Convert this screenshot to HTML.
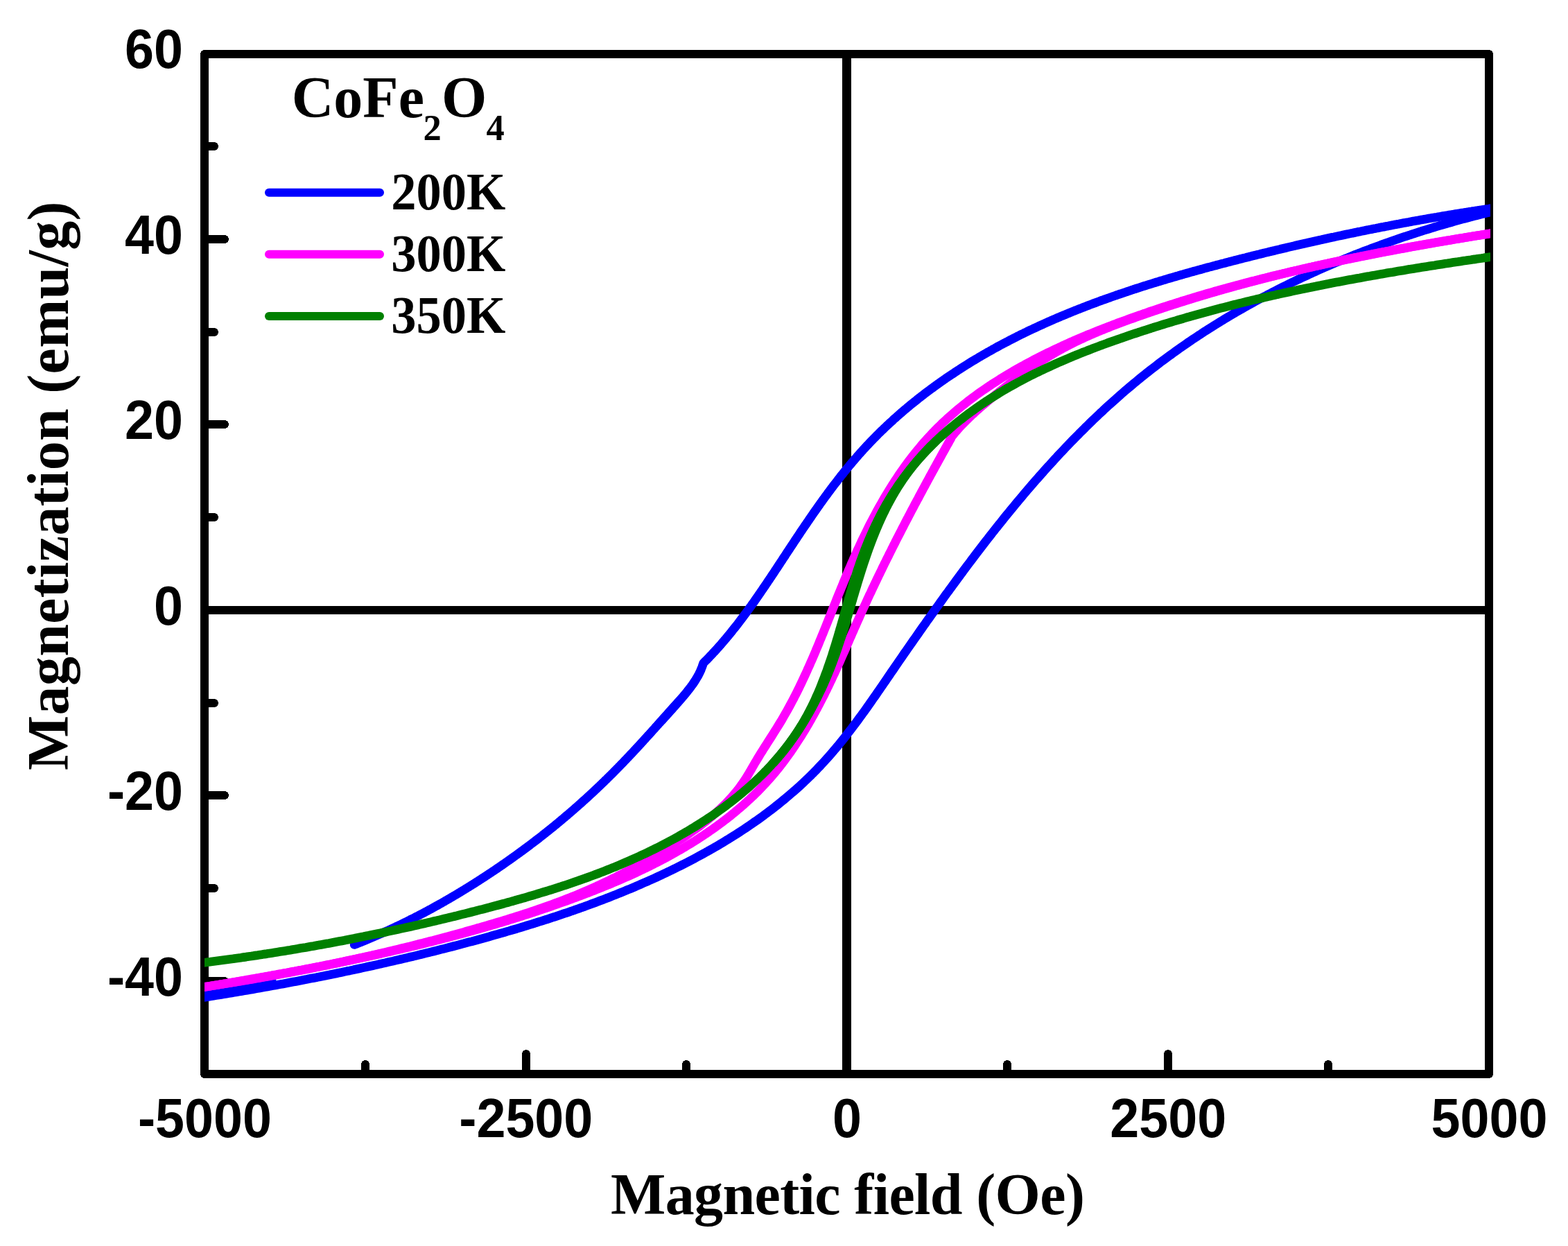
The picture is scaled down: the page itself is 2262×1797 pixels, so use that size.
<!DOCTYPE html>
<html><head><meta charset="utf-8"><title>CoFe2O4 hysteresis</title>
<style>html,body{margin:0;padding:0;background:#fff}svg{display:block}.s{font-family:"Liberation Serif",serif;font-weight:bold;font-variant-ligatures:none}.a{font-family:"Liberation Sans",sans-serif;font-weight:bold}</style></head><body>
<svg width="2262" height="1797" viewBox="0 0 2262 1797">
<rect width="2262" height="1797" fill="#fff"/>
<defs><clipPath id="c"><rect x="295" y="72" width="1855" height="1483"/></clipPath></defs>
<g stroke="#000" stroke-width="12" fill="none" shape-rendering="crispEdges">
<path d="M295,78 H2148 V1549 H295 Z" stroke-linejoin="round"/>
<path d="M295,880 H2148"/>
<path d="M1221.5,78 V1549" stroke-width="13"/>
</g>
<g stroke="#000" stroke-width="12" fill="none" stroke-linecap="round" shape-rendering="crispEdges">
<path d="M295,1415 h29"/>
<path d="M295,1281 h14"/>
<path d="M295,1147 h29"/>
<path d="M295,1014 h14"/>
<path d="M295,746 h14"/>
<path d="M295,612 h29"/>
<path d="M295,479 h14"/>
<path d="M295,345 h29"/>
<path d="M295,211 h14"/>
<path d="M527,1549 v-14"/>
<path d="M759,1549 v-29"/>
<path d="M990,1549 v-14"/>
<path d="M1453,1549 v-14"/>
<path d="M1685,1549 v-29"/>
<path d="M1916,1549 v-14"/>
</g>
<g fill="none" stroke-width="12.7" stroke-linejoin="round" stroke-linecap="round" clip-path="url(#c)">
<path stroke="#0000ff" d="M2152.0,300.5 L2149.7,300.8 L2147.5,301.2 L2145.2,301.5 L2142.9,301.9 L2140.6,302.2 L2138.4,302.5 L2136.1,302.9 L2133.8,303.2 L2131.5,303.6 L2129.2,303.9 L2127.0,304.3 L2124.7,304.6 L2122.4,305.0 L2120.2,305.3 L2117.9,305.7 L2115.6,306.1 L2113.3,306.4 L2111.1,306.8 L2108.8,307.1 L2106.5,307.5 L2104.3,307.9 L2102.0,308.2 L2099.7,308.6 L2097.5,309.0 L2095.2,309.4 L2092.9,309.7 L2090.7,310.1 L2088.4,310.5 L2086.1,310.9 L2083.9,311.2 L2081.6,311.6 L2079.3,312.0 L2077.1,312.4 L2074.8,312.8 L2072.5,313.2 L2070.3,313.5 L2068.0,313.9 L2065.8,314.3 L2063.5,314.7 L2061.2,315.1 L2059.0,315.5 L2056.7,315.9 L2054.5,316.3 L2052.2,316.7 L2049.9,317.1 L2047.7,317.5 L2045.4,317.9 L2043.2,318.3 L2040.9,318.7 L2038.7,319.1 L2036.4,319.5 L2034.2,319.9 L2031.9,320.4 L2029.6,320.8 L2027.4,321.2 L2025.1,321.6 L2022.9,322.0 L2020.6,322.4 L2018.4,322.9 L2016.1,323.3 L2013.9,323.7 L2011.6,324.1 L2009.4,324.6 L2007.1,325.0 L2004.9,325.4 L2002.6,325.9 L2000.4,326.3 L1998.1,326.7 L1995.9,327.2 L1993.6,327.6 L1991.4,328.0 L1989.1,328.5 L1986.9,328.9 L1984.7,329.4 L1982.4,329.8 L1980.2,330.2 L1977.9,330.7 L1975.7,331.1 L1973.4,331.6 L1971.2,332.0 L1968.9,332.5 L1966.7,332.9 L1964.5,333.4 L1962.2,333.9 L1960.0,334.3 L1957.7,334.8 L1955.5,335.2 L1953.3,335.7 L1951.0,336.2 L1948.8,336.6 L1946.5,337.1 L1944.3,337.6 L1942.1,338.0 L1939.8,338.5 L1937.6,339.0 L1935.3,339.5 L1933.1,339.9 L1930.9,340.4 L1928.6,340.9 L1926.4,341.4 L1924.2,341.9 L1921.9,342.3 L1919.7,342.8 L1917.4,343.3 L1915.2,343.8 L1913.0,344.3 L1910.7,344.8 L1908.5,345.3 L1906.3,345.8 L1904.0,346.2 L1901.8,346.7 L1899.6,347.2 L1897.3,347.7 L1895.1,348.2 L1892.9,348.7 L1890.6,349.2 L1888.4,349.7 L1886.2,350.2 L1883.9,350.8 L1881.7,351.3 L1879.5,351.8 L1877.2,352.3 L1875.0,352.8 L1872.8,353.3 L1870.6,353.8 L1868.3,354.3 L1866.1,354.9 L1863.9,355.4 L1861.6,355.9 L1859.4,356.4 L1857.2,356.9 L1854.9,357.5 L1852.7,358.0 L1850.5,358.5 L1848.3,359.0 L1846.0,359.6 L1843.8,360.1 L1841.6,360.6 L1839.3,361.2 L1837.1,361.7 L1834.9,362.2 L1832.7,362.8 L1830.4,363.3 L1828.2,363.9 L1826.0,364.4 L1823.7,364.9 L1821.5,365.5 L1819.3,366.0 L1817.1,366.6 L1814.8,367.1 L1812.6,367.7 L1810.4,368.2 L1808.2,368.8 L1805.9,369.3 L1803.7,369.9 L1801.5,370.5 L1799.3,371.0 L1797.0,371.6 L1794.8,372.1 L1792.6,372.7 L1790.4,373.3 L1788.1,373.8 L1785.9,374.4 L1783.7,375.0 L1781.5,375.5 L1779.2,376.1 L1777.0,376.7 L1774.8,377.3 L1772.6,377.8 L1770.3,378.4 L1768.1,379.0 L1765.9,379.6 L1763.7,380.1 L1761.5,380.7 L1759.2,381.3 L1757.0,381.9 L1754.8,382.5 L1752.6,383.1 L1750.3,383.7 L1748.1,384.3 L1745.9,384.9 L1743.7,385.4 L1741.5,386.0 L1739.2,386.6 L1737.0,387.2 L1734.8,387.9 L1732.6,388.5 L1730.4,389.1 L1728.1,389.7 L1725.9,390.3 L1723.7,390.9 L1721.5,391.5 L1719.3,392.1 L1717.1,392.7 L1714.9,393.4 L1712.6,394.0 L1710.4,394.6 L1708.2,395.2 L1706.0,395.9 L1703.8,396.5 L1701.6,397.1 L1699.4,397.8 L1697.2,398.4 L1695.0,399.1 L1692.7,399.7 L1690.5,400.4 L1688.3,401.0 L1686.1,401.6 L1683.9,402.3 L1681.7,403.0 L1679.5,403.6 L1677.3,404.3 L1675.1,404.9 L1672.9,405.6 L1670.7,406.3 L1668.5,406.9 L1666.3,407.6 L1664.1,408.3 L1661.9,409.0 L1659.7,409.7 L1657.5,410.3 L1655.3,411.0 L1653.1,411.7 L1650.9,412.4 L1648.8,413.1 L1646.6,413.8 L1644.4,414.5 L1642.2,415.2 L1640.0,415.9 L1637.8,416.6 L1635.6,417.3 L1633.4,418.1 L1631.3,418.8 L1629.1,419.5 L1626.9,420.2 L1624.7,421.0 L1622.5,421.7 L1620.4,422.4 L1618.2,423.2 L1616.0,423.9 L1613.8,424.6 L1611.7,425.4 L1609.5,426.1 L1607.3,426.9 L1605.2,427.6 L1603.0,428.4 L1600.8,429.2 L1598.7,429.9 L1596.5,430.7 L1594.3,431.5 L1592.2,432.3 L1590.0,433.0 L1587.9,433.8 L1585.7,434.6 L1583.6,435.4 L1581.4,436.2 L1579.3,437.0 L1577.1,437.8 L1575.0,438.6 L1572.8,439.4 L1570.7,440.2 L1568.5,441.0 L1566.4,441.9 L1564.2,442.7 L1562.1,443.5 L1560.0,444.4 L1557.8,445.2 L1555.7,446.0 L1553.6,446.9 L1551.4,447.7 L1549.3,448.6 L1547.2,449.4 L1545.0,450.3 L1542.9,451.2 L1540.8,452.0 L1538.7,452.9 L1536.6,453.8 L1534.4,454.7 L1532.3,455.5 L1530.2,456.4 L1528.1,457.3 L1526.0,458.2 L1523.9,459.1 L1521.8,460.0 L1519.7,460.9 L1517.6,461.8 L1515.5,462.8 L1513.4,463.7 L1511.3,464.6 L1509.2,465.5 L1507.1,466.5 L1505.0,467.4 L1502.9,468.4 L1500.8,469.3 L1498.7,470.3 L1496.7,471.2 L1494.6,472.2 L1492.5,473.2 L1490.4,474.1 L1488.4,475.1 L1486.3,476.1 L1484.2,477.1 L1482.1,478.1 L1480.1,479.1 L1478.0,480.1 L1476.0,481.1 L1473.9,482.1 L1471.8,483.1 L1469.8,484.1 L1467.7,485.1 L1465.7,486.2 L1463.6,487.2 L1461.6,488.2 L1459.5,489.3 L1457.5,490.3 L1455.5,491.4 L1453.4,492.5 L1451.4,493.5 L1449.4,494.6 L1447.3,495.7 L1445.3,496.7 L1443.3,497.8 L1441.3,498.9 L1439.2,500.0 L1437.2,501.1 L1435.2,502.2 L1433.2,503.3 L1431.2,504.5 L1429.2,505.6 L1427.2,506.7 L1425.2,507.8 L1423.2,509.0 L1421.2,510.1 L1419.2,511.3 L1417.2,512.4 L1415.2,513.6 L1413.2,514.7 L1411.3,515.9 L1409.3,517.1 L1407.3,518.3 L1405.3,519.5 L1403.4,520.6 L1401.4,521.8 L1399.4,523.0 L1397.5,524.3 L1395.5,525.5 L1393.6,526.7 L1391.6,527.9 L1389.7,529.1 L1387.7,530.4 L1385.8,531.6 L1383.9,532.9 L1381.9,534.1 L1380.0,535.4 L1378.1,536.6 L1376.2,537.9 L1374.3,539.2 L1372.3,540.4 L1370.4,541.7 L1368.5,543.0 L1366.6,544.3 L1364.7,545.6 L1362.8,546.9 L1361.0,548.2 L1359.1,549.5 L1357.2,550.8 L1355.3,552.2 L1353.4,553.5 L1351.6,554.8 L1349.7,556.2 L1347.8,557.5 L1346.0,558.9 L1344.1,560.2 L1342.3,561.6 L1340.4,563.0 L1338.6,564.3 L1336.8,565.7 L1334.9,567.1 L1333.1,568.5 L1331.3,569.9 L1329.5,571.3 L1327.7,572.7 L1325.9,574.1 L1324.1,575.5 L1322.3,577.0 L1320.5,578.4 L1318.7,579.8 L1316.9,581.3 L1315.1,582.7 L1313.3,584.2 L1311.6,585.6 L1309.8,587.1 L1308.1,588.6 L1306.3,590.1 L1304.5,591.5 L1302.8,593.0 L1301.1,594.5 L1299.3,596.0 L1297.6,597.5 L1295.9,599.0 L1294.2,600.5 L1292.5,602.1 L1290.7,603.6 L1289.0,605.1 L1287.4,606.7 L1285.7,608.2 L1284.0,609.7 L1282.3,611.3 L1280.6,612.9 L1279.0,614.4 L1277.3,616.0 L1275.6,617.6 L1274.0,619.2 L1272.3,620.7 L1270.7,622.3 L1269.1,623.9 L1267.4,625.5 L1265.8,627.2 L1264.2,628.8 L1262.6,630.4 L1261.0,632.0 L1259.4,633.7 L1257.8,635.3 L1256.2,636.9 L1254.6,638.6 L1253.1,640.3 L1251.5,641.9 L1249.9,643.6 L1248.4,645.3 L1246.8,646.9 L1245.3,648.6 L1243.8,650.3 L1242.2,652.0 L1240.7,653.7 L1239.2,655.4 L1237.7,657.1 L1236.2,658.9 L1234.7,660.6 L1233.2,662.3 L1231.7,664.1 L1230.2,665.8 L1228.7,667.5 L1227.3,669.3 L1225.8,671.0 L1224.3,672.8 L1222.9,674.6 L1221.4,676.3 L1220.0,678.1 L1218.5,679.9 L1217.1,681.7 L1215.7,683.5 L1214.2,685.2 L1212.8,687.0 L1211.4,688.8 L1210.0,690.6 L1208.6,692.4 L1207.2,694.3 L1205.8,696.1 L1204.4,697.9 L1203.0,699.7 L1201.6,701.5 L1200.2,703.4 L1198.8,705.2 L1197.5,707.0 L1196.1,708.9 L1194.7,710.7 L1193.4,712.6 L1192.0,714.4 L1190.6,716.3 L1189.3,718.1 L1187.9,720.0 L1186.6,721.8 L1185.3,723.7 L1183.9,725.6 L1182.6,727.4 L1181.3,729.3 L1179.9,731.2 L1178.6,733.1 L1177.3,735.0 L1176.0,736.8 L1174.6,738.7 L1173.3,740.6 L1172.0,742.5 L1170.7,744.4 L1169.4,746.3 L1168.1,748.2 L1166.8,750.1 L1165.5,752.0 L1164.2,753.9 L1162.9,755.8 L1161.6,757.7 L1160.3,759.6 L1159.0,761.5 L1157.7,763.4 L1156.4,765.3 L1155.1,767.2 L1153.9,769.1 L1152.6,771.1 L1151.3,773.0 L1150.0,774.9 L1148.8,776.8 L1147.5,778.7 L1146.2,780.6 L1144.9,782.6 L1143.7,784.5 L1142.4,786.4 L1141.1,788.3 L1139.9,790.2 L1138.6,792.2 L1137.3,794.1 L1136.0,796.0 L1134.8,797.9 L1133.5,799.9 L1132.3,801.8 L1131.0,803.7 L1129.7,805.6 L1128.5,807.6 L1127.2,809.5 L1125.9,811.4 L1124.7,813.3 L1123.4,815.2 L1122.1,817.2 L1120.9,819.1 L1119.6,821.0 L1118.3,822.9 L1117.1,824.8 L1115.8,826.8 L1114.5,828.7 L1113.2,830.6 L1112.0,832.5 L1110.7,834.4 L1109.4,836.3 L1108.1,838.2 L1106.9,840.1 L1105.6,842.0 L1104.3,843.9 L1103.0,845.8 L1101.7,847.7 L1100.4,849.6 L1099.1,851.5 L1097.8,853.4 L1096.5,855.3 L1095.2,857.2 L1093.9,859.1 L1092.6,861.0 L1091.3,862.8 L1090.0,864.7 L1088.7,866.6 L1087.4,868.5 L1086.0,870.3 L1084.7,872.2 L1083.4,874.1 L1082.0,875.9 L1080.7,877.8 L1079.4,879.6 L1078.0,881.5 L1076.7,883.3 L1075.3,885.2 L1073.9,887.0 L1072.6,888.8 L1071.2,890.7 L1069.8,892.5 L1068.4,894.3 L1067.1,896.1 L1065.7,897.9 L1064.3,899.8 L1062.9,901.6 L1061.5,903.4 L1060.1,905.1 L1058.6,906.9 L1057.2,908.7 L1055.8,910.5 L1054.4,912.3 L1052.9,914.1 L1051.5,915.8 L1050.0,917.6 L1048.6,919.3 L1047.1,921.1 L1045.6,922.8 L1044.1,924.6 L1042.6,926.3 L1041.2,928.0 L1039.7,929.8 L1038.1,931.5 L1036.6,933.2 L1035.1,934.9 L1033.6,936.6 L1032.0,938.3 L1030.5,940.0 L1028.9,941.6 L1027.4,943.3 L1025.8,945.0 L1024.2,946.6 L1022.7,948.3 L1021.1,949.9 L1019.5,951.6 L1017.8,953.2 L1016.2,954.8 L1014.6,956.4 L1014.7,956.4 L1014.2,957.8 L1013.8,959.1 L1013.3,960.4 L1012.9,961.7 L1012.4,962.9 L1011.9,964.1 L1011.5,965.3 L1011.0,966.5 L1010.5,967.6 L1010.0,968.7 L1009.5,969.8 L1008.9,970.9 L1008.4,972.0 L1007.9,973.0 L1007.3,974.1 L1006.8,975.1 L1006.2,976.1 L1005.6,977.1 L1005.0,978.1 L1004.4,979.1 L1003.8,980.1 L1003.2,981.1 L1002.6,982.0 L1001.9,983.0 L1001.3,984.0 L1000.6,985.0 L1000.0,986.0 L999.3,986.9 L998.6,987.9 L997.8,988.9 L997.1,989.9 L996.4,990.9 L995.6,991.9 L994.8,993.0 L994.0,994.0 L993.2,995.1 L992.3,996.1 L991.5,997.2 L990.6,998.3 L989.7,999.4 L988.7,1000.6 L987.8,1001.7 L986.8,1002.9 L985.8,1004.1 L984.8,1005.3 L983.7,1006.5 L982.6,1007.8 L981.5,1009.1 L980.4,1010.4 L979.3,1011.7 L978.1,1013.0 L976.9,1014.4 L975.8,1015.7 L974.6,1017.0 L973.4,1018.4 L972.2,1019.7 L971.0,1021.0 L969.9,1022.4 L968.7,1023.7 L967.5,1025.0 L966.4,1026.2 L965.3,1027.5 L964.2,1028.7 L963.1,1029.9 L962.1,1031.0 L961.1,1032.2 L960.1,1033.2 L959.1,1034.3 L958.2,1035.3 L957.4,1036.2 L956.5,1037.1 L955.8,1038.0 L955.1,1038.8 L954.4,1039.5 L953.8,1040.1 L953.2,1040.7 L952.7,1041.3 L952.3,1041.7 L952.0,1042.1 L951.7,1042.4 L951.5,1042.6 L951.3,1042.7 L951.3,1042.8 L951.3,1042.7 L951.4,1042.6 L951.6,1042.3 L951.9,1042.0 L952.3,1041.5 L952.8,1041.0 L953.3,1040.4 L953.9,1039.7 L954.6,1039.0 L955.3,1038.1 L956.1,1037.2 L957.0,1036.3 L957.8,1035.3 L958.8,1034.2 L959.7,1033.2 L960.8,1032.0 L961.8,1030.9 L962.9,1029.7 L963.9,1028.5 L965.0,1027.3 L966.1,1026.0 L967.3,1024.8 L968.4,1023.5 L969.5,1022.3 L970.6,1021.1 L971.7,1019.8 L972.8,1018.6 L973.8,1017.5 L974.9,1016.3 L975.9,1015.2 L976.9,1014.1 L977.8,1013.1 L978.7,1012.1 L979.5,1011.2 L980.3,1010.3 L981.1,1009.5 L981.7,1008.7 L982.4,1008.0 L982.9,1007.5 L983.4,1006.9 L983.7,1006.5 L984.0,1006.2 L984.2,1006.0 L984.4,1005.8 L984.4,1005.8 L984.4,1005.8 L984.2,1006.0 L984.0,1006.2 L983.8,1006.5 L983.4,1006.9 L983.0,1007.4 L982.5,1007.9 L982.0,1008.5 L981.4,1009.2 L980.7,1010.0 L980.0,1010.8 L979.2,1011.6 L978.4,1012.5 L977.5,1013.5 L976.6,1014.5 L975.7,1015.6 L974.7,1016.7 L973.7,1017.8 L972.6,1019.0 L971.6,1020.2 L970.5,1021.4 L969.3,1022.7 L968.2,1024.0 L967.0,1025.3 L965.8,1026.6 L964.6,1027.9 L963.4,1029.3 L962.2,1030.6 L961.0,1032.0 L959.8,1033.3 L958.6,1034.7 L957.3,1036.0 L956.1,1037.4 L955.0,1038.7 L953.8,1040.0 L952.6,1041.3 L951.5,1042.6 L950.3,1043.8 L949.2,1045.1 L948.1,1046.3 L947.1,1047.5 L946.0,1048.6 L945.0,1049.8 L944.0,1050.9 L943.0,1052.0 L942.0,1053.1 L941.1,1054.1 L940.1,1055.2 L939.2,1056.2 L938.3,1057.2 L937.4,1058.2 L936.5,1059.2 L935.6,1060.2 L934.7,1061.1 L933.9,1062.1 L933.0,1063.0 L932.2,1063.9 L931.4,1064.8 L930.6,1065.7 L929.7,1066.6 L928.9,1067.5 L928.1,1068.4 L927.4,1069.3 L926.6,1070.1 L925.8,1071.0 L925.0,1071.8 L924.2,1072.7 L923.5,1073.5 L922.7,1074.3 L921.9,1075.2 L921.2,1076.0 L920.4,1076.8 L919.6,1077.7 L918.8,1078.5 L918.1,1079.3 L917.3,1080.2 L916.5,1081.0 L915.7,1081.8 L915.0,1082.7 L914.2,1083.5 L913.4,1084.4 L912.6,1085.2 L911.8,1086.1 L911.0,1087.0 L910.1,1087.8 L909.3,1088.7 L908.5,1089.6 L907.6,1090.5 L906.8,1091.4 L906.0,1092.2 L905.1,1093.1 L904.3,1094.0 L903.4,1094.9 L902.6,1095.8 L901.7,1096.7 L900.8,1097.6 L900.0,1098.5 L899.1,1099.5 L898.2,1100.4 L897.3,1101.3 L896.4,1102.2 L895.6,1103.1 L894.7,1104.0 L893.8,1104.9 L892.9,1105.8 L892.0,1106.8 L891.1,1107.7 L890.2,1108.6 L889.3,1109.5 L888.4,1110.4 L887.5,1111.3 L886.6,1112.2 L885.8,1113.1 L884.9,1114.0 L884.0,1114.9 L883.1,1115.8 L882.2,1116.7 L881.3,1117.6 L880.3,1118.5 L879.4,1119.4 L878.5,1120.3 L877.6,1121.2 L876.7,1122.1 L875.8,1123.0 L874.9,1123.9 L874.0,1124.8 L873.1,1125.6 L872.2,1126.5 L871.3,1127.4 L870.4,1128.3 L869.4,1129.2 L868.5,1130.1 L867.6,1130.9 L866.7,1131.8 L865.8,1132.7 L864.9,1133.6 L863.9,1134.5 L863.0,1135.3 L862.1,1136.2 L861.2,1137.1 L860.3,1138.0 L859.3,1138.8 L858.4,1139.7 L857.5,1140.6 L856.6,1141.4 L855.6,1142.3 L854.7,1143.2 L853.8,1144.0 L852.8,1144.9 L851.9,1145.7 L851.0,1146.6 L850.0,1147.5 L849.1,1148.3 L848.2,1149.2 L847.2,1150.0 L846.3,1150.9 L845.4,1151.7 L844.4,1152.6 L843.5,1153.4 L842.5,1154.3 L841.6,1155.1 L840.7,1156.0 L839.7,1156.8 L838.8,1157.7 L837.8,1158.5 L836.9,1159.4 L835.9,1160.2 L835.0,1161.1 L834.0,1161.9 L833.1,1162.7 L832.1,1163.6 L831.2,1164.4 L830.2,1165.2 L829.3,1166.1 L828.3,1166.9 L827.4,1167.7 L826.4,1168.6 L825.5,1169.4 L824.5,1170.2 L823.6,1171.1 L822.6,1171.9 L821.6,1172.7 L820.7,1173.5 L819.7,1174.4 L818.8,1175.2 L817.8,1176.0 L816.8,1176.8 L815.9,1177.6 L814.9,1178.5 L813.9,1179.3 L813.0,1180.1 L812.0,1180.9 L811.0,1181.7 L810.1,1182.5 L809.1,1183.3 L808.1,1184.1 L807.1,1185.0 L806.2,1185.8 L805.2,1186.6 L804.2,1187.4 L803.2,1188.2 L802.3,1189.0 L801.3,1189.8 L800.3,1190.6 L799.3,1191.4 L798.4,1192.2 L797.4,1193.0 L796.4,1193.8 L795.4,1194.6 L794.4,1195.4 L793.4,1196.1 L792.5,1196.9 L791.5,1197.7 L790.5,1198.5 L789.5,1199.3 L788.5,1200.1 L787.5,1200.9 L786.5,1201.7 L785.5,1202.4 L784.5,1203.2 L783.5,1204.0 L782.6,1204.8 L781.6,1205.6 L780.6,1206.4 L779.6,1207.1 L778.6,1207.9 L777.6,1208.7 L776.6,1209.5 L775.6,1210.2 L774.6,1211.0 L773.6,1211.8 L772.6,1212.5 L771.6,1213.3 L770.6,1214.1 L769.6,1214.8 L768.6,1215.6 L767.5,1216.4 L766.5,1217.1 L765.5,1217.9 L764.5,1218.7 L763.5,1219.4 L762.5,1220.2 L761.5,1220.9 L760.5,1221.7 L759.5,1222.4 L758.5,1223.2 L757.4,1223.9 L756.4,1224.7 L755.4,1225.4 L754.4,1226.2 L753.4,1226.9 L752.4,1227.7 L751.3,1228.4 L750.3,1229.2 L749.3,1229.9 L748.3,1230.7 L747.2,1231.4 L746.2,1232.2 L745.2,1232.9 L744.2,1233.6 L743.1,1234.4 L742.1,1235.1 L741.1,1235.8 L740.1,1236.6 L739.0,1237.3 L738.0,1238.0 L737.0,1238.8 L735.9,1239.5 L734.9,1240.2 L733.9,1241.0 L732.8,1241.7 L731.8,1242.4 L730.8,1243.1 L729.7,1243.9 L728.7,1244.6 L727.7,1245.3 L726.6,1246.0 L725.6,1246.7 L724.5,1247.5 L723.5,1248.2 L722.5,1248.9 L721.4,1249.6 L720.4,1250.3 L719.3,1251.0 L718.3,1251.7 L717.2,1252.5 L716.2,1253.2 L715.2,1253.9 L714.1,1254.6 L713.1,1255.3 L712.0,1256.0 L711.0,1256.7 L709.9,1257.4 L708.9,1258.1 L707.8,1258.8 L706.7,1259.5 L705.7,1260.2 L704.6,1260.9 L703.6,1261.6 L702.5,1262.3 L701.5,1263.0 L700.4,1263.7 L699.4,1264.4 L698.3,1265.1 L697.2,1265.8 L696.2,1266.4 L695.1,1267.1 L694.1,1267.8 L693.0,1268.5 L691.9,1269.2 L690.9,1269.9 L689.8,1270.6 L688.7,1271.2 L687.7,1271.9 L686.6,1272.6 L685.5,1273.3 L684.5,1274.0 L683.4,1274.6 L682.3,1275.3 L681.2,1276.0 L680.2,1276.6 L679.1,1277.3 L678.0,1278.0 L676.9,1278.7 L675.9,1279.3 L674.8,1280.0 L673.7,1280.7 L672.6,1281.3 L671.6,1282.0 L670.5,1282.7 L669.4,1283.3 L668.3,1284.0 L667.2,1284.6 L666.2,1285.3 L665.1,1285.9 L664.0,1286.6 L662.9,1287.3 L661.8,1287.9 L660.7,1288.6 L659.7,1289.2 L658.6,1289.9 L657.5,1290.5 L656.4,1291.2 L655.3,1291.8 L654.2,1292.4 L653.1,1293.1 L652.0,1293.7 L650.9,1294.4 L649.8,1295.0 L648.8,1295.6 L647.7,1296.3 L646.6,1296.9 L645.5,1297.5 L644.4,1298.2 L643.3,1298.8 L642.2,1299.4 L641.1,1300.1 L640.0,1300.7 L638.9,1301.3 L637.8,1302.0 L636.7,1302.6 L635.6,1303.2 L634.5,1303.8 L633.4,1304.4 L632.3,1305.1 L631.2,1305.7 L630.0,1306.3 L628.9,1306.9 L627.8,1307.5 L626.7,1308.1 L625.6,1308.7 L624.5,1309.4 L623.4,1310.0 L622.3,1310.6 L621.2,1311.2 L620.1,1311.8 L618.9,1312.4 L617.8,1313.0 L616.7,1313.6 L615.6,1314.2 L614.5,1314.8 L613.4,1315.4 L612.3,1316.0 L611.1,1316.6 L610.0,1317.2 L608.9,1317.7 L607.8,1318.3 L606.7,1318.9 L605.5,1319.5 L604.4,1320.1 L603.3,1320.7 L602.2,1321.3 L601.0,1321.8 L599.9,1322.4 L598.8,1323.0 L597.7,1323.6 L596.5,1324.2 L595.4,1324.7 L594.3,1325.3 L593.1,1325.9 L592.0,1326.4 L590.9,1327.0 L589.8,1327.6 L588.6,1328.1 L587.5,1328.7 L586.4,1329.3 L585.2,1329.8 L584.1,1330.4 L582.9,1330.9 L581.8,1331.5 L580.7,1332.1 L579.5,1332.6 L578.4,1333.2 L577.3,1333.7 L576.1,1334.3 L575.0,1334.8 L573.8,1335.3 L572.7,1335.9 L571.6,1336.4 L570.4,1337.0 L569.3,1337.5 L568.1,1338.1 L567.0,1338.6 L565.8,1339.1 L564.7,1339.7 L563.5,1340.2 L562.4,1340.7 L561.2,1341.3 L560.1,1341.8 L558.9,1342.3 L557.8,1342.8 L556.6,1343.4 L555.5,1343.9 L554.3,1344.4 L553.2,1344.9 L552.0,1345.4 L550.9,1345.9 L549.7,1346.5 L548.6,1347.0 L547.4,1347.5 L546.2,1348.0 L545.1,1348.5 L543.9,1349.0 L542.8,1349.5 L541.6,1350.0 L540.4,1350.5 L539.3,1351.0 L538.1,1351.5 L537.0,1352.0 L535.8,1352.5 L534.6,1353.0 L533.5,1353.5 L532.3,1354.0 L531.1,1354.4 L530.0,1354.9 L528.8,1355.4 L527.6,1355.9 L526.5,1356.4 L525.3,1356.9 L524.1,1357.3 L522.9,1357.8 L521.8,1358.3 L520.6,1358.8 L519.4,1359.2 L518.3,1359.7 L517.1,1360.2 L515.9,1360.6 L514.7,1361.1 L513.6,1361.6 L512.4,1362.0 L511.2,1362.5"/>
<path stroke="#0000ff" d="M293.0,1438.6 L296.7,1438.0 L300.5,1437.4 L304.2,1436.8 L307.9,1436.2 L311.6,1435.6 L315.4,1435.0 L319.1,1434.4 L322.8,1433.8 L326.5,1433.2 L330.2,1432.6 L334.0,1431.9 L337.7,1431.3 L341.4,1430.7 L345.1,1430.1 L348.8,1429.4 L352.5,1428.8 L356.3,1428.2 L360.0,1427.5 L363.7,1426.9 L367.4,1426.2 L371.1,1425.6 L374.8,1424.9 L378.5,1424.3 L382.3,1423.6 L386.0,1422.9 L389.7,1422.3 L393.4,1421.6 L397.1,1420.9 L400.8,1420.2 L404.5,1419.6 L408.2,1418.9 L411.9,1418.2 L415.6,1417.5 L419.4,1416.8 L423.1,1416.1 L426.8,1415.4 L430.5,1414.7 L434.2,1414.0 L437.9,1413.3 L441.6,1412.6 L445.3,1411.8 L449.0,1411.1 L452.7,1410.4 L456.4,1409.7 L460.1,1408.9 L463.8,1408.2 L467.5,1407.5 L471.2,1406.7 L474.9,1406.0 L478.6,1405.2 L482.3,1404.5 L486.0,1403.7 L489.6,1402.9 L493.3,1402.2 L497.0,1401.4 L500.7,1400.6 L504.4,1399.9 L508.1,1399.1 L511.8,1398.3 L515.5,1397.5 L519.2,1396.7 L522.8,1395.9 L526.5,1395.1 L530.2,1394.3 L533.9,1393.5 L537.6,1392.7 L541.3,1391.9 L544.9,1391.1 L548.6,1390.2 L552.3,1389.4 L556.0,1388.6 L559.7,1387.7 L563.3,1386.9 L567.0,1386.1 L570.7,1385.2 L574.3,1384.4 L578.0,1383.5 L581.7,1382.6 L585.4,1381.8 L589.0,1380.9 L592.7,1380.0 L596.4,1379.2 L600.0,1378.3 L603.7,1377.4 L607.4,1376.5 L611.0,1375.6 L614.7,1374.7 L618.3,1373.8 L622.0,1372.9 L625.7,1372.0 L629.3,1371.1 L633.0,1370.1 L636.6,1369.2 L640.3,1368.3 L643.9,1367.4 L647.6,1366.4 L651.2,1365.5 L654.9,1364.5 L658.5,1363.6 L662.2,1362.6 L665.8,1361.6 L669.5,1360.7 L673.1,1359.7 L676.7,1358.7 L680.4,1357.8 L684.0,1356.8 L687.7,1355.8 L691.3,1354.8 L694.9,1353.8 L698.6,1352.8 L702.2,1351.8 L705.8,1350.8 L709.5,1349.7 L713.1,1348.7 L716.7,1347.7 L720.3,1346.6 L724.0,1345.6 L727.6,1344.6 L731.2,1343.5 L734.8,1342.5 L738.4,1341.4 L742.1,1340.3 L745.7,1339.3 L749.3,1338.2 L752.9,1337.1 L756.5,1336.0 L760.1,1334.9 L763.7,1333.8 L767.3,1332.7 L770.9,1331.6 L774.5,1330.4 L778.1,1329.3 L781.7,1328.2 L785.3,1327.0 L788.9,1325.9 L792.5,1324.7 L796.0,1323.5 L799.6,1322.4 L803.2,1321.2 L806.8,1320.0 L810.4,1318.8 L813.9,1317.6 L817.5,1316.4 L821.1,1315.2 L824.6,1313.9 L828.2,1312.7 L831.7,1311.4 L835.3,1310.2 L838.8,1308.9 L842.4,1307.7 L845.9,1306.4 L849.5,1305.1 L853.0,1303.8 L856.6,1302.5 L860.1,1301.2 L863.6,1299.8 L867.1,1298.5 L870.7,1297.2 L874.2,1295.8 L877.7,1294.5 L881.2,1293.1 L884.7,1291.7 L888.2,1290.3 L891.7,1288.9 L895.2,1287.5 L898.7,1286.1 L902.2,1284.7 L905.7,1283.2 L909.2,1281.8 L912.7,1280.3 L916.2,1278.8 L919.6,1277.3 L923.1,1275.9 L926.6,1274.3 L930.0,1272.8 L933.5,1271.3 L936.9,1269.8 L940.4,1268.2 L943.8,1266.7 L947.3,1265.1 L950.7,1263.5 L954.1,1261.9 L957.6,1260.3 L961.0,1258.7 L964.4,1257.1 L967.8,1255.4 L971.2,1253.8 L974.6,1252.1 L978.0,1250.4 L981.4,1248.7 L984.8,1247.0 L988.1,1245.3 L991.5,1243.6 L994.9,1241.8 L998.2,1240.1 L1001.6,1238.3 L1004.9,1236.5 L1008.3,1234.7 L1011.6,1232.9 L1014.9,1231.1 L1018.2,1229.3 L1021.5,1227.4 L1024.8,1225.6 L1028.1,1223.7 L1031.4,1221.8 L1034.7,1219.9 L1037.9,1218.0 L1041.2,1216.1 L1044.4,1214.1 L1047.6,1212.1 L1050.9,1210.2 L1054.1,1208.2 L1057.3,1206.2 L1060.5,1204.2 L1063.7,1202.1 L1066.8,1200.1 L1070.0,1198.0 L1073.1,1196.0 L1076.3,1193.9 L1079.4,1191.8 L1082.5,1189.6 L1085.6,1187.5 L1088.7,1185.3 L1091.8,1183.2 L1094.9,1181.0 L1097.9,1178.8 L1101.0,1176.6 L1104.0,1174.3 L1107.0,1172.1 L1110.0,1169.8 L1113.0,1167.6 L1116.0,1165.3 L1118.9,1162.9 L1121.9,1160.6 L1124.8,1158.3 L1127.7,1155.9 L1130.6,1153.5 L1133.5,1151.1 L1136.4,1148.7 L1139.2,1146.3 L1142.1,1143.8 L1144.9,1141.4 L1147.7,1138.9 L1150.5,1136.4 L1153.3,1133.9 L1156.1,1131.3 L1158.8,1128.8 L1161.5,1126.2 L1164.3,1123.6 L1167.0,1121.0 L1169.6,1118.4 L1172.3,1115.8 L1174.9,1113.1 L1177.6,1110.4 L1180.2,1107.7 L1182.8,1105.0 L1185.3,1102.3 L1187.9,1099.5 L1190.4,1096.8 L1192.9,1094.0 L1195.4,1091.2 L1197.9,1088.3 L1200.4,1085.5 L1202.8,1082.6 L1205.3,1079.8 L1207.7,1076.9 L1210.1,1074.0 L1212.5,1071.0 L1214.9,1068.1 L1217.2,1065.2 L1219.6,1062.2 L1221.9,1059.2 L1224.2,1056.2 L1226.5,1053.3 L1228.8,1050.2 L1231.1,1047.2 L1233.4,1044.2 L1235.6,1041.2 L1237.9,1038.1 L1240.1,1035.1 L1242.4,1032.0 L1244.6,1028.9 L1246.8,1025.9 L1249.0,1022.8 L1251.2,1019.7 L1253.4,1016.6 L1255.6,1013.5 L1257.8,1010.4 L1259.9,1007.3 L1262.1,1004.2 L1264.3,1001.1 L1266.4,997.9 L1268.6,994.8 L1270.7,991.7 L1272.9,988.6 L1275.0,985.5 L1277.2,982.3 L1279.3,979.2 L1281.4,976.1 L1283.6,973.0 L1285.7,969.8 L1287.9,966.7 L1290.0,963.6 L1292.1,960.5 L1294.3,957.4 L1296.4,954.3 L1298.5,951.2 L1300.7,948.1 L1302.8,945.0 L1304.9,941.9 L1307.1,938.8 L1309.2,935.7 L1311.4,932.6 L1313.5,929.6 L1315.7,926.5 L1317.8,923.4 L1320.0,920.3 L1322.1,917.3 L1324.3,914.2 L1326.4,911.1 L1328.6,908.0 L1330.7,905.0 L1332.9,901.9 L1335.1,898.9 L1337.2,895.8 L1339.4,892.7 L1341.6,889.7 L1343.8,886.6 L1346.0,883.5 L1348.1,880.5 L1350.3,877.4 L1352.5,874.4 L1354.7,871.3 L1356.9,868.2 L1359.1,865.2 L1361.3,862.1 L1363.5,859.1 L1365.7,856.0 L1368.0,853.0 L1370.2,849.9 L1372.4,846.9 L1374.6,843.8 L1376.9,840.8 L1379.1,837.7 L1381.3,834.7 L1383.6,831.7 L1385.8,828.6 L1388.1,825.6 L1390.3,822.6 L1392.6,819.5 L1394.8,816.5 L1397.1,813.5 L1399.4,810.5 L1401.7,807.4 L1403.9,804.4 L1406.2,801.4 L1408.5,798.4 L1410.8,795.4 L1413.1,792.4 L1415.4,789.4 L1417.7,786.4 L1420.0,783.4 L1422.3,780.4 L1424.7,777.4 L1427.0,774.4 L1429.3,771.5 L1431.6,768.5 L1434.0,765.5 L1436.3,762.5 L1438.7,759.6 L1441.0,756.6 L1443.4,753.7 L1445.8,750.7 L1448.1,747.8 L1450.5,744.8 L1452.9,741.9 L1455.3,739.0 L1457.7,736.0 L1460.1,733.1 L1462.5,730.2 L1464.9,727.3 L1467.3,724.4 L1469.7,721.5 L1472.2,718.6 L1474.6,715.7 L1477.0,712.8 L1479.5,709.9 L1481.9,707.0 L1484.4,704.1 L1486.9,701.3 L1489.3,698.4 L1491.8,695.6 L1494.3,692.7 L1496.8,689.9 L1499.3,687.0 L1501.8,684.2 L1504.3,681.4 L1506.8,678.6 L1509.3,675.8 L1511.8,673.0 L1514.4,670.2 L1516.9,667.4 L1519.5,664.6 L1522.0,661.8 L1524.6,659.1 L1527.1,656.3 L1529.7,653.5 L1532.3,650.8 L1534.9,648.1 L1537.5,645.3 L1540.1,642.6 L1542.7,639.9 L1545.3,637.2 L1547.9,634.5 L1550.6,631.8 L1553.2,629.1 L1555.9,626.4 L1558.5,623.7 L1561.2,621.1 L1563.9,618.4 L1566.5,615.8 L1569.2,613.2 L1571.9,610.5 L1574.6,607.9 L1577.3,605.3 L1580.0,602.7 L1582.8,600.1 L1585.5,597.5 L1588.2,594.9 L1591.0,592.4 L1593.7,589.8 L1596.5,587.3 L1599.3,584.7 L1602.1,582.2 L1604.9,579.7 L1607.7,577.2 L1610.5,574.7 L1613.3,572.2 L1616.1,569.7 L1618.9,567.3 L1621.8,564.8 L1624.6,562.3 L1627.5,559.9 L1630.4,557.5 L1633.2,555.1 L1636.1,552.7 L1639.0,550.3 L1641.9,547.9 L1644.8,545.5 L1647.7,543.1 L1650.7,540.8 L1653.6,538.4 L1656.6,536.1 L1659.5,533.8 L1662.5,531.5 L1665.5,529.2 L1668.4,526.9 L1671.4,524.6 L1674.4,522.3 L1677.4,520.1 L1680.5,517.8 L1683.5,515.6 L1686.5,513.4 L1689.6,511.2 L1692.6,509.0 L1695.7,506.8 L1698.7,504.6 L1701.8,502.4 L1704.9,500.3 L1708.0,498.1 L1711.1,496.0 L1714.2,493.8 L1717.3,491.7 L1720.4,489.6 L1723.6,487.5 L1726.7,485.4 L1729.8,483.3 L1733.0,481.3 L1736.1,479.2 L1739.3,477.2 L1742.5,475.1 L1745.7,473.1 L1748.9,471.1 L1752.0,469.1 L1755.3,467.1 L1758.5,465.1 L1761.7,463.1 L1764.9,461.2 L1768.1,459.2 L1771.4,457.3 L1774.6,455.4 L1777.9,453.4 L1781.1,451.5 L1784.4,449.6 L1787.6,447.7 L1790.9,445.9 L1794.2,444.0 L1797.5,442.1 L1800.8,440.3 L1804.1,438.4 L1807.4,436.6 L1810.7,434.8 L1814.0,433.0 L1817.3,431.2 L1820.7,429.4 L1824.0,427.6 L1827.4,425.9 L1830.7,424.1 L1834.1,422.4 L1837.4,420.6 L1840.8,418.9 L1844.1,417.2 L1847.5,415.5 L1850.9,413.8 L1854.3,412.1 L1857.7,410.4 L1861.1,408.7 L1864.5,407.1 L1867.9,405.4 L1871.3,403.8 L1874.7,402.2 L1878.1,400.6 L1881.6,399.0 L1885.0,397.4 L1888.4,395.8 L1891.9,394.2 L1895.3,392.6 L1898.8,391.1 L1902.2,389.5 L1905.7,388.0 L1909.1,386.5 L1912.6,385.0 L1916.1,383.5 L1919.6,382.0 L1923.0,380.5 L1926.5,379.0 L1930.0,377.5 L1933.5,376.1 L1937.0,374.6 L1940.5,373.2 L1944.0,371.8 L1947.5,370.3 L1951.0,368.9 L1954.5,367.5 L1958.1,366.1 L1961.6,364.8 L1965.1,363.4 L1968.6,362.0 L1972.2,360.7 L1975.7,359.4 L1979.2,358.0 L1982.8,356.7 L1986.3,355.4 L1989.9,354.1 L1993.4,352.8 L1997.0,351.5 L2000.5,350.2 L2004.1,349.0 L2007.7,347.7 L2011.2,346.5 L2014.8,345.3 L2018.4,344.0 L2021.9,342.8 L2025.5,341.6 L2029.1,340.4 L2032.7,339.2 L2036.3,338.1 L2039.8,336.9 L2043.4,335.7 L2047.0,334.6 L2050.6,333.4 L2054.2,332.3 L2057.8,331.2 L2061.4,330.1 L2065.0,329.0 L2068.6,327.9 L2072.2,326.8 L2075.8,325.7 L2079.4,324.7 L2083.0,323.6 L2086.6,322.6 L2090.2,321.5 L2093.9,320.5 L2097.5,319.5 L2101.1,318.5 L2104.7,317.5 L2108.3,316.5 L2111.9,315.5 L2115.6,314.6 L2119.2,313.6 L2122.8,312.7 L2126.4,311.7 L2130.1,310.8 L2133.7,309.9 L2137.3,308.9 L2140.9,308.0 L2144.6,307.1 L2148.2,306.3 L2151.8,305.4"/>
<path stroke="#0000ff" d="M293,1431.5 L392,1413.5"/>
<path stroke="#ff00ff" d="M294.9,1423.3 L298.7,1422.7 L302.5,1422.2 L306.3,1421.6 L310.1,1421.0 L313.9,1420.4 L317.7,1419.8 L321.4,1419.2 L325.2,1418.6 L329.0,1418.0 L332.8,1417.4 L336.6,1416.8 L340.4,1416.2 L344.1,1415.6 L347.9,1414.9 L351.7,1414.3 L355.5,1413.7 L359.2,1413.0 L363.0,1412.4 L366.8,1411.7 L370.6,1411.1 L374.3,1410.4 L378.1,1409.8 L381.9,1409.1 L385.6,1408.4 L389.4,1407.8 L393.2,1407.1 L396.9,1406.4 L400.7,1405.7 L404.5,1405.0 L408.2,1404.3 L412.0,1403.6 L415.8,1402.9 L419.5,1402.2 L423.3,1401.5 L427.0,1400.8 L430.8,1400.1 L434.5,1399.4 L438.3,1398.6 L442.1,1397.9 L445.8,1397.2 L449.6,1396.4 L453.3,1395.7 L457.1,1394.9 L460.8,1394.2 L464.6,1393.4 L468.3,1392.6 L472.0,1391.9 L475.8,1391.1 L479.5,1390.3 L483.3,1389.5 L487.0,1388.7 L490.8,1387.9 L494.5,1387.1 L498.2,1386.3 L502.0,1385.5 L505.7,1384.7 L509.5,1383.9 L513.2,1383.1 L516.9,1382.3 L520.7,1381.4 L524.4,1380.6 L528.1,1379.8 L531.8,1378.9 L535.6,1378.1 L539.3,1377.2 L543.0,1376.4 L546.8,1375.5 L550.5,1374.6 L554.2,1373.8 L557.9,1372.9 L561.6,1372.0 L565.4,1371.1 L569.1,1370.2 L572.8,1369.3 L576.5,1368.4 L580.2,1367.5 L583.9,1366.6 L587.7,1365.7 L591.4,1364.8 L595.1,1363.8 L598.8,1362.9 L602.5,1362.0 L606.2,1361.0 L609.9,1360.1 L613.6,1359.1 L617.3,1358.2 L621.0,1357.2 L624.7,1356.3 L628.4,1355.3 L632.1,1354.3 L635.8,1353.3 L639.5,1352.3 L643.2,1351.3 L646.9,1350.4 L650.6,1349.4 L654.3,1348.3 L658.0,1347.3 L661.7,1346.3 L665.4,1345.3 L669.1,1344.3 L672.8,1343.2 L676.4,1342.2 L680.1,1341.2 L683.8,1340.1 L687.5,1339.0 L691.2,1338.0 L694.9,1336.9 L698.5,1335.9 L702.2,1334.8 L705.9,1333.7 L709.6,1332.6 L713.2,1331.5 L716.9,1330.4 L720.6,1329.3 L724.2,1328.2 L727.9,1327.1 L731.6,1326.0 L735.2,1324.8 L738.9,1323.7 L742.6,1322.5 L746.2,1321.4 L749.9,1320.2 L753.5,1319.0 L757.1,1317.9 L760.8,1316.7 L764.4,1315.5 L768.0,1314.2 L771.7,1313.0 L775.3,1311.8 L778.9,1310.5 L782.5,1309.3 L786.1,1308.0 L789.7,1306.7 L793.3,1305.4 L796.9,1304.1 L800.5,1302.8 L804.1,1301.5 L807.7,1300.1 L811.3,1298.8 L814.8,1297.4 L818.4,1296.0 L822.0,1294.6 L825.5,1293.2 L829.0,1291.8 L832.6,1290.4 L836.1,1288.9 L839.6,1287.4 L843.1,1285.9 L846.7,1284.4 L850.2,1282.9 L853.6,1281.4 L857.1,1279.8 L860.6,1278.2 L864.1,1276.7 L867.5,1275.0 L871.0,1273.4 L874.4,1271.8 L877.9,1270.1 L881.3,1268.5 L884.7,1266.8 L888.2,1265.1 L891.6,1263.3 L895.0,1261.6 L898.4,1259.9 L901.7,1258.1 L905.1,1256.3 L908.5,1254.5 L911.9,1252.7 L915.2,1250.9 L918.6,1249.0 L921.9,1247.2 L925.3,1245.3 L928.6,1243.4 L931.9,1241.5 L935.2,1239.6 L938.5,1237.6 L941.8,1235.7 L945.1,1233.7 L948.4,1231.8 L951.7,1229.8 L955.0,1227.8 L958.3,1225.7 L961.5,1223.7 L964.8,1221.6 L968.0,1219.6 L971.3,1217.5 L974.5,1215.4 L977.7,1213.3 L981.0,1211.2 L984.2,1209.1 L987.4,1206.9 L990.6,1204.7 L993.7,1202.5 L996.9,1200.3 L1000.0,1198.1 L1003.2,1195.9 L1006.3,1193.6 L1009.4,1191.3 L1012.4,1189.0 L1015.5,1186.6 L1018.5,1184.2 L1021.5,1181.8 L1024.4,1179.4 L1027.3,1177.0 L1030.2,1174.5 L1033.1,1172.0 L1035.9,1169.4 L1038.7,1166.8 L1041.5,1164.2 L1044.2,1161.6 L1046.9,1158.9 L1049.5,1156.2 L1052.1,1153.4 L1054.7,1150.6 L1057.2,1147.8 L1059.6,1144.9 L1062.0,1142.0 L1064.4,1139.1 L1066.7,1136.1 L1068.9,1133.0 L1071.1,1129.9 L1073.3,1126.8 L1075.4,1123.6 L1077.4,1120.4 L1079.4,1117.1 L1081.3,1113.8 L1083.3,1110.5 L1085.2,1107.2 L1087.1,1103.9 L1089.0,1100.5 L1091.0,1097.2 L1093.0,1093.9 L1095.0,1090.6 L1097.0,1087.3 L1099.1,1084.1 L1101.1,1080.8 L1103.2,1077.5 L1105.3,1074.3 L1107.3,1071.0 L1109.4,1067.8 L1111.5,1064.5 L1113.6,1061.3 L1115.6,1058.0 L1117.7,1054.7 L1119.7,1051.5 L1121.8,1048.2 L1123.8,1044.9 L1125.8,1041.6 L1127.8,1038.4 L1129.7,1035.0 L1131.6,1031.7 L1133.5,1028.4 L1135.4,1025.1 L1137.3,1021.7 L1139.1,1018.4 L1140.9,1015.0 L1142.7,1011.6 L1144.5,1008.3 L1146.2,1004.9 L1148.0,1001.5 L1149.7,998.1 L1151.4,994.7 L1153.1,991.2 L1154.7,987.8 L1156.4,984.4 L1158.0,980.9 L1159.6,977.5 L1161.2,974.0 L1162.8,970.6 L1164.4,967.1 L1165.9,963.6 L1167.5,960.2 L1169.0,956.7 L1170.6,953.2 L1172.1,949.7 L1173.6,946.2 L1175.1,942.7 L1176.6,939.2 L1178.0,935.7 L1179.5,932.2 L1181.0,928.7 L1182.4,925.1 L1183.9,921.6 L1185.3,918.1 L1186.8,914.6 L1188.2,911.0 L1189.6,907.5 L1191.1,903.9 L1192.5,900.4 L1193.9,896.9 L1195.3,893.3 L1196.8,889.8 L1198.2,886.2 L1199.6,882.7 L1201.0,879.1 L1202.4,875.6 L1203.9,872.0 L1205.3,868.5 L1206.7,864.9 L1208.1,861.4 L1209.6,857.8 L1211.0,854.3 L1212.5,850.7 L1213.9,847.2 L1215.4,843.7 L1216.8,840.1 L1218.3,836.6 L1219.8,833.0 L1221.2,829.5 L1222.7,826.0 L1224.2,822.4 L1225.8,818.9 L1227.3,815.4 L1228.8,811.8 L1230.4,808.3 L1231.9,804.8 L1233.5,801.3 L1235.1,797.8 L1236.6,794.3 L1238.3,790.8 L1239.9,787.3 L1241.5,783.8 L1243.1,780.3 L1244.8,776.9 L1246.5,773.4 L1248.2,769.9 L1249.9,766.5 L1251.6,763.0 L1253.3,759.6 L1255.0,756.2 L1256.8,752.8 L1258.6,749.4 L1260.4,746.0 L1262.2,742.6 L1264.0,739.2 L1265.8,735.8 L1267.7,732.5 L1269.6,729.1 L1271.5,725.8 L1273.4,722.5 L1275.3,719.1 L1277.2,715.8 L1279.2,712.6 L1281.2,709.3 L1283.2,706.0 L1285.2,702.8 L1287.2,699.6 L1289.3,696.3 L1291.4,693.1 L1293.5,690.0 L1295.6,686.8 L1297.7,683.6 L1299.9,680.5 L1302.1,677.4 L1304.3,674.3 L1306.5,671.2 L1308.8,668.1 L1311.0,665.1 L1313.3,662.1 L1315.6,659.0 L1318.0,656.1 L1320.3,653.1 L1322.7,650.1 L1325.1,647.2 L1327.6,644.3 L1330.0,641.4 L1332.5,638.5 L1335.0,635.7 L1337.5,632.8 L1340.1,630.0 L1342.7,627.2 L1345.3,624.5 L1347.9,621.7 L1350.6,619.0 L1353.3,616.3 L1356.0,613.7 L1358.7,611.0 L1361.5,608.4 L1364.3,605.8 L1367.1,603.2 L1369.9,600.7 L1372.8,598.2 L1375.6,595.7 L1378.5,593.2 L1381.5,590.7 L1384.4,588.3 L1387.4,585.9 L1390.4,583.5 L1393.4,581.1 L1396.4,578.7 L1399.5,576.4 L1402.5,574.1 L1405.6,571.8 L1408.7,569.5 L1411.8,567.3 L1415.0,565.1 L1418.1,562.9 L1421.3,560.7 L1424.5,558.5 L1427.7,556.4 L1430.9,554.2 L1434.2,552.1 L1437.4,550.1 L1440.7,548.0 L1443.9,545.9 L1447.2,543.9 L1450.5,541.9 L1453.8,539.9 L1457.2,537.9 L1460.5,536.0 L1463.8,534.0 L1467.2,532.1 L1470.5,530.2 L1473.9,528.3 L1477.3,526.5 L1480.7,524.6 L1484.1,522.8 L1487.5,521.0 L1490.9,519.2 L1494.3,517.4 L1497.7,515.7 L1501.2,513.9 L1504.6,512.2 L1508.1,510.5 L1511.5,508.8 L1515.0,507.1 L1518.4,505.5 L1521.9,503.8 L1525.3,502.2 L1528.8,500.6 L1532.3,498.9 L1535.8,497.4 L1539.3,495.8 L1542.7,494.2 L1546.2,492.7 L1549.7,491.1 L1553.2,489.6 L1556.7,488.1 L1560.3,486.6 L1563.8,485.1 L1567.3,483.7 L1570.8,482.2 L1574.4,480.8 L1577.9,479.3 L1581.4,477.9 L1585.0,476.5 L1588.5,475.1 L1592.1,473.7 L1595.6,472.3 L1599.2,470.9 L1602.7,469.6 L1606.3,468.2 L1609.9,466.9 L1613.4,465.5 L1617.0,464.2 L1620.6,462.9 L1624.2,461.6 L1627.8,460.3 L1631.3,459.0 L1634.9,457.7 L1638.5,456.4 L1642.1,455.1 L1645.7,453.9 L1649.3,452.6 L1652.9,451.4 L1656.5,450.1 L1660.2,448.9 L1663.8,447.7 L1667.4,446.5 L1671.0,445.3 L1674.6,444.1 L1678.3,442.9 L1681.9,441.7 L1685.5,440.5 L1689.2,439.3 L1692.8,438.2 L1696.4,437.0 L1700.1,435.9 L1703.7,434.7 L1707.4,433.6 L1711.0,432.5 L1714.7,431.3 L1718.3,430.2 L1722.0,429.1 L1725.6,428.0 L1729.3,426.9 L1733.0,425.9 L1736.6,424.8 L1740.3,423.7 L1744.0,422.6 L1747.7,421.6 L1751.3,420.5 L1755.0,419.5 L1758.7,418.4 L1762.4,417.4 L1766.1,416.4 L1769.8,415.4 L1773.4,414.3 L1777.1,413.3 L1780.8,412.3 L1784.5,411.3 L1788.2,410.4 L1791.9,409.4 L1795.6,408.4 L1799.3,407.4 L1803.0,406.5 L1806.7,405.5 L1810.5,404.6 L1814.2,403.6 L1817.9,402.7 L1821.6,401.7 L1825.3,400.8 L1829.0,399.9 L1832.7,399.0 L1836.5,398.0 L1840.2,397.1 L1843.9,396.2 L1847.6,395.3 L1851.4,394.4 L1855.1,393.6 L1858.8,392.7 L1862.6,391.8 L1866.3,390.9 L1870.0,390.1 L1873.8,389.2 L1877.5,388.3 L1881.2,387.5 L1885.0,386.6 L1888.7,385.8 L1892.5,385.0 L1896.2,384.1 L1899.9,383.3 L1903.7,382.5 L1907.4,381.7 L1911.2,380.9 L1914.9,380.1 L1918.7,379.3 L1922.4,378.5 L1926.2,377.7 L1929.9,376.9 L1933.7,376.1 L1937.4,375.3 L1941.2,374.5 L1944.9,373.8 L1948.7,373.0 L1952.5,372.2 L1956.2,371.5 L1960.0,370.7 L1963.7,369.9 L1967.5,369.2 L1971.2,368.5 L1975.0,367.7 L1978.8,367.0 L1982.5,366.2 L1986.3,365.5 L1990.1,364.8 L1993.8,364.1 L1997.6,363.3 L2001.3,362.6 L2005.1,361.9 L2008.9,361.2 L2012.6,360.5 L2016.4,359.8 L2020.2,359.1 L2023.9,358.4 L2027.7,357.7 L2031.4,357.0 L2035.2,356.3 L2039.0,355.6 L2042.7,355.0 L2046.5,354.3 L2050.3,353.6 L2054.0,352.9 L2057.8,352.3 L2061.6,351.6 L2065.3,350.9 L2069.1,350.3 L2072.9,349.6 L2076.6,349.0 L2080.4,348.3 L2084.1,347.7 L2087.9,347.0 L2091.7,346.4 L2095.4,345.7 L2099.2,345.1 L2103.0,344.4 L2106.7,343.8 L2110.5,343.2 L2114.2,342.5 L2118.0,341.9 L2121.7,341.3 L2125.5,340.6 L2129.3,340.0 L2133.0,339.4 L2136.8,338.8 L2140.5,338.2 L2144.3,337.5 L2148.0,336.9 L2151.8,336.3"/>
<path stroke="#ff00ff" d="M295.0,1423.6 L297.4,1423.2 L299.8,1422.8 L302.1,1422.4 L304.5,1422.0 L306.9,1421.6 L309.2,1421.2 L311.6,1420.8 L314.0,1420.4 L316.4,1420.0 L318.7,1419.6 L321.1,1419.2 L323.5,1418.8 L325.8,1418.4 L328.2,1418.0 L330.6,1417.6 L332.9,1417.2 L335.3,1416.8 L337.7,1416.4 L340.0,1416.0 L342.4,1415.6 L344.8,1415.2 L347.1,1414.7 L349.5,1414.3 L351.9,1413.9 L354.3,1413.5 L356.6,1413.1 L359.0,1412.7 L361.4,1412.3 L363.7,1411.8 L366.1,1411.4 L368.5,1411.0 L370.8,1410.6 L373.2,1410.2 L375.6,1409.7 L377.9,1409.3 L380.3,1408.9 L382.7,1408.5 L385.0,1408.1 L387.4,1407.6 L389.8,1407.2 L392.1,1406.8 L394.5,1406.3 L396.9,1405.9 L399.2,1405.5 L401.6,1405.0 L404.0,1404.6 L406.3,1404.2 L408.7,1403.7 L411.1,1403.3 L413.4,1402.9 L415.8,1402.4 L418.2,1402.0 L420.5,1401.5 L422.9,1401.1 L425.3,1400.7 L427.6,1400.2 L430.0,1399.8 L432.4,1399.3 L434.7,1398.9 L437.1,1398.4 L439.5,1398.0 L441.8,1397.5 L444.2,1397.1 L446.6,1396.6 L448.9,1396.2 L451.3,1395.7 L453.6,1395.2 L456.0,1394.8 L458.4,1394.3 L460.7,1393.9 L463.1,1393.4 L465.4,1392.9 L467.8,1392.5 L470.2,1392.0 L472.5,1391.5 L474.9,1391.1 L477.3,1390.6 L479.6,1390.1 L482.0,1389.6 L484.3,1389.2 L486.7,1388.7 L489.0,1388.2 L491.4,1387.7 L493.8,1387.2 L496.1,1386.8 L498.5,1386.3 L500.8,1385.8 L503.2,1385.3 L505.5,1384.8 L507.9,1384.3 L510.3,1383.8 L512.6,1383.3 L515.0,1382.8 L517.3,1382.3 L519.7,1381.8 L522.0,1381.3 L524.4,1380.8 L526.7,1380.3 L529.1,1379.8 L531.4,1379.3 L533.8,1378.8 L536.1,1378.3 L538.5,1377.8 L540.8,1377.2 L543.2,1376.7 L545.5,1376.2 L547.9,1375.7 L550.2,1375.2 L552.6,1374.6 L554.9,1374.1 L557.3,1373.6 L559.6,1373.1 L562.0,1372.5 L564.3,1372.0 L566.7,1371.4 L569.0,1370.9 L571.4,1370.4 L573.7,1369.8 L576.0,1369.3 L578.4,1368.7 L580.7,1368.2 L583.1,1367.6 L585.4,1367.1 L587.7,1366.5 L590.1,1366.0 L592.4,1365.4 L594.8,1364.9 L597.1,1364.3 L599.4,1363.7 L601.8,1363.2 L604.1,1362.6 L606.4,1362.0 L608.8,1361.5 L611.1,1360.9 L613.5,1360.3 L615.8,1359.7 L618.1,1359.1 L620.5,1358.6 L622.8,1358.0 L625.1,1357.4 L627.4,1356.8 L629.8,1356.2 L632.1,1355.6 L634.4,1355.0 L636.8,1354.4 L639.1,1353.8 L641.4,1353.2 L643.7,1352.6 L646.1,1352.0 L648.4,1351.4 L650.7,1350.8 L653.0,1350.2 L655.4,1349.5 L657.7,1348.9 L660.0,1348.3 L662.3,1347.7 L664.7,1347.1 L667.0,1346.4 L669.3,1345.8 L671.6,1345.2 L673.9,1344.5 L676.2,1343.9 L678.6,1343.2 L680.9,1342.6 L683.2,1341.9 L685.5,1341.3 L687.8,1340.6 L690.1,1340.0 L692.4,1339.3 L694.7,1338.7 L697.1,1338.0 L699.4,1337.3 L701.7,1336.7 L704.0,1336.0 L706.3,1335.3 L708.6,1334.7 L710.9,1334.0 L713.2,1333.3 L715.5,1332.6 L717.8,1331.9 L720.1,1331.2 L722.4,1330.6 L724.7,1329.9 L727.0,1329.2 L729.3,1328.5 L731.6,1327.8 L733.9,1327.1 L736.2,1326.3 L738.5,1325.6 L740.8,1324.9 L743.1,1324.2 L745.4,1323.5 L747.7,1322.8 L750.0,1322.0 L752.3,1321.3 L754.5,1320.6 L756.8,1319.8 L759.1,1319.1 L761.4,1318.4 L763.7,1317.6 L766.0,1316.9 L768.3,1316.1 L770.5,1315.4 L772.8,1314.6 L775.1,1313.9 L777.4,1313.1 L779.7,1312.3 L781.9,1311.6 L784.2,1310.8 L786.5,1310.0 L788.8,1309.3 L791.1,1308.5 L793.3,1307.7 L795.6,1306.9 L797.9,1306.1 L800.1,1305.3 L802.4,1304.5 L804.7,1303.7 L806.9,1302.9 L809.2,1302.1 L811.5,1301.3 L813.7,1300.5 L816.0,1299.7 L818.3,1298.9 L820.5,1298.1 L822.8,1297.3 L825.0,1296.4 L827.3,1295.6 L829.6,1294.8 L831.8,1293.9 L834.1,1293.1 L836.3,1292.2 L838.6,1291.4 L840.8,1290.5 L843.1,1289.7 L845.3,1288.8 L847.6,1288.0 L849.8,1287.1 L852.1,1286.2 L854.3,1285.4 L856.6,1284.5 L858.8,1283.6 L861.0,1282.7 L863.3,1281.8 L865.5,1280.9 L867.7,1280.0 L870.0,1279.1 L872.2,1278.2 L874.4,1277.3 L876.7,1276.4 L878.9,1275.5 L881.1,1274.6 L883.3,1273.6 L885.5,1272.7 L887.8,1271.8 L890.0,1270.8 L892.2,1269.9 L894.4,1268.9 L896.6,1268.0 L898.8,1267.0 L901.0,1266.0 L903.2,1265.0 L905.4,1264.1 L907.6,1263.1 L909.8,1262.1 L912.0,1261.1 L914.2,1260.1 L916.4,1259.1 L918.6,1258.1 L920.8,1257.0 L922.9,1256.0 L925.1,1255.0 L927.3,1254.0 L929.5,1252.9 L931.6,1251.9 L933.8,1250.8 L936.0,1249.7 L938.1,1248.7 L940.3,1247.6 L942.4,1246.5 L944.6,1245.4 L946.7,1244.3 L948.9,1243.2 L951.0,1242.1 L953.2,1241.0 L955.3,1239.9 L957.4,1238.8 L959.6,1237.6 L961.7,1236.5 L963.8,1235.4 L965.9,1234.2 L968.0,1233.0 L970.1,1231.9 L972.3,1230.7 L974.4,1229.5 L976.5,1228.3 L978.6,1227.1 L980.7,1225.9 L982.7,1224.7 L984.8,1223.5 L986.9,1222.3 L989.0,1221.0 L991.1,1219.8 L993.1,1218.5 L995.2,1217.3 L997.3,1216.0 L999.3,1214.7 L1001.4,1213.5 L1003.4,1212.2 L1005.4,1210.9 L1007.5,1209.6 L1009.5,1208.2 L1011.5,1206.9 L1013.6,1205.6 L1015.6,1204.3 L1017.6,1202.9 L1019.6,1201.6 L1021.6,1200.2 L1023.6,1198.8 L1025.6,1197.5 L1027.5,1196.1 L1029.5,1194.7 L1031.5,1193.3 L1033.4,1191.9 L1035.4,1190.5 L1037.3,1189.0 L1039.3,1187.6 L1041.2,1186.2 L1043.1,1184.7 L1045.0,1183.3 L1046.9,1181.8 L1048.9,1180.3 L1050.7,1178.8 L1052.6,1177.4 L1054.5,1175.9 L1056.4,1174.3 L1058.3,1172.8 L1060.1,1171.3 L1062.0,1169.8 L1063.8,1168.2 L1065.6,1166.7 L1067.5,1165.1 L1069.3,1163.6 L1071.1,1162.0 L1072.9,1160.4 L1074.7,1158.8 L1076.5,1157.2 L1078.2,1155.6 L1080.0,1154.0 L1081.8,1152.3 L1083.5,1150.7 L1085.2,1149.0 L1087.0,1147.4 L1088.7,1145.7 L1090.4,1144.1 L1092.1,1142.4 L1093.8,1140.7 L1095.5,1139.0 L1097.1,1137.3 L1098.8,1135.6 L1100.4,1133.8 L1102.1,1132.1 L1103.7,1130.3 L1105.3,1128.6 L1106.9,1126.8 L1108.5,1125.0 L1110.1,1123.3 L1111.7,1121.5 L1113.2,1119.7 L1114.8,1117.9 L1116.3,1116.0 L1117.9,1114.2 L1119.4,1112.4 L1120.9,1110.5 L1122.4,1108.7 L1123.9,1106.8 L1125.4,1104.9 L1126.8,1103.0 L1128.3,1101.2 L1129.7,1099.3 L1131.2,1097.4 L1132.6,1095.4 L1134.0,1093.5 L1135.4,1091.6 L1136.8,1089.7 L1138.2,1087.7 L1139.6,1085.8 L1141.0,1083.8 L1142.3,1081.8 L1143.7,1079.9 L1145.0,1077.9 L1146.4,1075.9 L1147.7,1073.9 L1149.0,1071.9 L1150.3,1069.9 L1151.6,1067.9 L1152.9,1065.9 L1154.2,1063.9 L1155.5,1061.8 L1156.8,1059.8 L1158.0,1057.8 L1159.3,1055.7 L1160.5,1053.7 L1161.8,1051.6 L1163.0,1049.5 L1164.2,1047.5 L1165.5,1045.4 L1166.7,1043.3 L1167.9,1041.2 L1169.1,1039.1 L1170.3,1037.0 L1171.4,1034.9 L1172.6,1032.8 L1173.8,1030.7 L1174.9,1028.6 L1176.1,1026.5 L1177.2,1024.4 L1178.4,1022.3 L1179.5,1020.1 L1180.6,1018.0 L1181.8,1015.9 L1182.9,1013.7 L1184.0,1011.6 L1185.1,1009.4 L1186.2,1007.3 L1187.3,1005.1 L1188.4,1003.0 L1189.5,1000.8 L1190.5,998.6 L1191.6,996.5 L1192.7,994.3 L1193.7,992.1 L1194.8,990.0 L1195.8,987.8 L1196.9,985.6 L1197.9,983.4 L1199.0,981.3 L1200.0,979.1 L1201.0,976.9 L1202.0,974.7 L1203.1,972.5 L1204.1,970.3 L1205.1,968.1 L1206.1,965.9 L1207.1,963.7 L1208.1,961.5 L1209.1,959.4 L1210.1,957.2 L1211.1,955.0 L1212.1,952.8 L1213.1,950.5 L1214.0,948.3 L1215.0,946.1 L1216.0,943.9 L1217.0,941.7 L1218.0,939.5 L1218.9,937.3 L1219.9,935.1 L1220.9,932.9 L1221.9,930.7 L1222.8,928.5 L1223.8,926.3 L1224.8,924.1 L1225.7,921.9 L1226.7,919.7 L1227.7,917.5 L1228.6,915.3 L1229.6,913.0 L1230.6,910.8 L1231.6,908.6 L1232.5,906.4 L1233.5,904.2 L1234.5,902.0 L1235.4,899.8 L1236.4,897.6 L1237.4,895.4 L1238.4,893.2 L1239.4,891.0 L1240.3,888.8 L1241.3,886.6 L1242.3,884.4 L1243.3,882.2 L1244.3,880.1 L1245.3,877.9 L1246.3,875.7 L1247.3,873.5 L1248.3,871.3 L1249.3,869.1 L1250.3,866.9 L1251.3,864.7 L1252.3,862.6 L1253.3,860.4 L1254.3,858.2 L1255.4,856.0 L1256.4,853.9 L1257.4,851.7 L1258.4,849.5 L1259.4,847.3 L1260.5,845.2 L1261.5,843.0 L1262.5,840.8 L1263.6,838.7 L1264.6,836.5 L1265.6,834.3 L1266.7,832.2 L1267.7,830.0 L1268.8,827.8 L1269.8,825.7 L1270.9,823.5 L1271.9,821.4 L1273.0,819.2 L1274.0,817.0 L1275.1,814.9 L1276.1,812.7 L1277.2,810.6 L1278.3,808.4 L1279.3,806.3 L1280.4,804.1 L1281.5,802.0 L1282.5,799.8 L1283.6,797.7 L1284.7,795.5 L1285.8,793.4 L1286.8,791.2 L1287.9,789.1 L1289.0,786.9 L1290.1,784.8 L1291.2,782.7 L1292.2,780.5 L1293.3,778.4 L1294.4,776.2 L1295.5,774.1 L1296.6,772.0 L1297.7,769.8 L1298.8,767.7 L1299.9,765.6 L1301.0,763.4 L1302.1,761.3 L1303.2,759.2 L1304.3,757.0 L1305.4,754.9 L1306.5,752.8 L1307.6,750.6 L1308.7,748.5 L1309.9,746.4 L1311.0,744.2 L1312.1,742.1 L1313.2,740.0 L1314.3,737.9 L1315.4,735.7 L1316.6,733.6 L1317.7,731.5 L1318.8,729.4 L1319.9,727.2 L1321.1,725.1 L1322.2,723.0 L1323.3,720.9 L1324.5,718.8 L1325.6,716.6 L1326.7,714.5 L1327.9,712.4 L1329.0,710.3 L1330.1,708.2 L1331.3,706.0 L1332.4,703.9 L1333.6,701.8 L1334.7,699.7 L1335.8,697.6 L1337.0,695.5 L1338.1,693.4 L1339.3,691.2 L1340.4,689.1 L1341.6,687.0 L1342.7,684.9 L1343.9,682.8 L1345.0,680.7 L1346.2,678.6 L1347.4,676.4 L1348.5,674.3 L1349.7,672.2 L1350.8,670.1 L1352.0,668.0 L1353.2,665.9 L1354.3,663.8 L1355.5,661.7 L1356.7,659.6 L1357.8,657.5 L1359.0,655.3 L1360.2,653.2 L1361.3,651.1 L1362.5,649.0 L1363.7,646.9 L1364.8,644.8 L1366.0,642.7 L1367.2,640.6 L1368.4,638.5 L1369.5,636.4 L1370.7,634.3 L1371.9,632.1 L1371.3,631.8 L1372.2,630.7 L1373.1,629.6 L1374.0,628.5 L1374.9,627.4 L1375.8,626.3 L1376.7,625.2 L1377.6,624.1 L1378.5,623.0 L1379.4,621.9 L1380.4,620.9 L1381.3,619.8 L1382.2,618.7 L1383.2,617.7 L1384.1,616.6 L1385.1,615.6 L1386.1,614.6 L1387.0,613.5 L1388.0,612.5 L1389.0,611.5 L1390.0,610.5 L1391.0,609.5 L1392.0,608.5 L1393.0,607.4 L1394.0,606.4 L1395.0,605.5 L1396.0,604.5 L1397.0,603.5 L1398.0,602.5 L1399.0,601.5 L1400.1,600.5 L1401.1,599.6 L1402.1,598.6 L1403.2,597.6 L1404.2,596.7 L1405.3,595.7 L1406.3,594.7 L1407.4,593.8 L1408.4,592.8 L1409.5,591.9 L1410.5,591.0 L1411.6,590.0 L1412.7,589.1 L1413.7,588.1 L1414.8,587.2 L1415.9,586.3 L1417.0,585.3 L1418.0,584.4 L1419.1,583.5 L1420.2,582.6 L1421.3,581.7 L1422.4,580.7 L1423.5,579.8 L1424.6,578.9 L1425.6,578.0 L1426.7,577.1 L1427.8,576.2 L1428.9,575.3 L1430.0,574.4 L1431.1,573.5 L1432.2,572.6 L1433.3,571.7 L1434.4,570.8 L1435.5,569.9 L1436.6,569.0 L1437.8,568.1 L1438.9,567.2 L1440.0,566.3 L1441.1,565.4 L1442.2,564.5 L1443.3,563.6 L1444.4,562.7 L1445.6,561.9 L1446.7,561.0 L1447.8,560.1 L1448.9,559.2 L1450.0,558.3 L1451.1,557.5 L1452.3,556.6 L1453.4,555.7 L1454.5,554.8 L1455.6,554.0 L1456.8,553.1 L1457.9,552.2 L1459.0,551.4 L1460.2,550.5 L1461.3,549.7 L1462.4,548.8 L1463.6,547.9 L1464.7,547.1 L1465.8,546.2 L1467.0,545.4 L1468.1,544.5 L1469.3,543.7 L1470.4,542.8 L1471.6,542.0 L1472.7,541.2 L1473.9,540.3 L1475.0,539.5 L1476.2,538.7 L1477.3,537.8 L1478.5,537.0 L1479.6,536.2 L1480.8,535.4 L1481.9,534.5 L1483.1,533.7 L1484.3,532.9 L1485.4,532.1 L1486.6,531.3 L1487.8,530.5 L1488.9,529.7 L1490.1,528.9 L1491.3,528.1 L1492.4,527.3 L1493.6,526.5 L1494.8,525.7 L1496.0,524.9 L1497.2,524.1 L1498.3,523.4 L1499.5,522.6 L1500.7,521.8 L1501.9,521.0 L1503.1,520.3 L1504.3,519.5 L1505.5,518.8 L1506.7,518.0 L1507.9,517.2 L1509.1,516.5 L1510.3,515.8 L1511.5,515.0 L1512.7,514.3 L1513.9,513.5 L1515.1,512.8 L1516.3,512.1 L1517.6,511.4 L1518.8,510.6 L1520.0,509.9 L1521.2,509.2 L1522.4,508.5 L1523.7,507.8 L1524.9,507.1 L1526.1,506.4 L1527.4,505.7 L1528.6,505.0 L1529.8,504.3 L1531.1,503.7 L1532.3,503.0 L1533.6,502.3 L1534.8,501.6 L1536.1,501.0 L1537.3,500.3 L1538.6,499.6 L1539.8,499.0 L1541.1,498.3 L1542.3,497.7 L1543.6,497.0 L1544.9,496.4 L1546.1,495.8 L1547.4,495.1 L1548.7,494.5 L1549.9,493.9 L1551.2,493.2 L1552.5,492.6 L1553.8,492.0 L1555.0,491.4 L1556.3,490.8 L1557.6,490.2 L1558.9,489.6 L1560.2,489.0 L1561.5,488.4 L1562.8,487.8 L1564.0,487.2 L1565.3,486.6 L1566.6,486.0 L1567.9,485.4 L1569.2,484.8 L1570.5,484.3 L1571.8,483.7 L1573.1,483.1 L1574.4,482.5 L1575.7,482.0 L1577.0,481.4 L1578.3,480.8 L1579.6,480.3 L1580.9,479.7 L1582.3,479.2 L1583.6,478.6 L1584.9,478.1 L1586.2,477.5 L1587.5,477.0 L1588.8,476.4 L1590.1,475.9 L1591.5,475.4 L1592.8,474.8 L1594.1,474.3 L1595.4,473.8 L1596.7,473.2 L1598.1,472.7 L1599.4,472.2 L1600.7,471.7 L1602.0,471.1 L1603.4,470.6 L1604.7,470.1 L1606.0,469.6 L1607.4,469.1 L1608.7,468.6 L1610.0,468.1 L1611.4,467.5 L1612.7,467.0 L1614.0,466.5 L1615.4,466.0 L1616.7,465.5 L1618.0,465.0 L1619.4,464.5 L1620.7,464.0 L1622.0,463.6 L1623.4,463.1 L1624.7,462.6 L1626.1,462.1 L1627.4,461.6 L1628.8,461.1 L1630.1,460.6 L1631.4,460.1 L1632.8,459.7 L1634.1,459.2 L1635.5,458.7 L1636.8,458.2 L1638.2,457.7 L1639.5,457.3 L1640.8,456.8 L1642.2,456.3 L1643.5,455.8 L1644.9,455.4 L1646.2,454.9 L1647.6,454.4 L1648.9,454.0 L1650.3,453.5 L1651.6,453.0 L1653.0,452.6 L1654.3,452.1 L1655.7,451.6 L1657.0,451.2 L1658.4,450.7 L1659.7,450.3 L1661.1,449.8 L1662.4,449.3 L1663.8,448.9 L1665.1,448.4 L1666.5,448.0 L1667.8,447.5 L1669.2,447.1 L1670.5,446.6 L1671.9,446.2 L1673.2,445.7 L1674.6,445.3 L1675.9,444.8 L1677.3,444.4 L1678.6,443.9 L1680.0,443.5 L1681.3,443.0 L1682.7,442.6 L1684.0,442.1 L1685.4,441.7 L1686.7,441.3 L1688.1,440.8 L1689.4,440.4 L1690.8,439.9 L1692.2,439.5 L1693.5,439.1 L1694.9,438.6 L1696.2,438.2 L1697.6,437.8 L1698.9,437.3 L1700.3,436.9 L1701.6,436.5 L1703.0,436.0 L1704.4,435.6 L1705.7,435.2 L1707.1,434.8 L1708.4,434.3 L1709.8,433.9 L1711.1,433.5 L1712.5,433.1 L1713.9,432.6 L1715.2,432.2 L1716.6,431.8 L1717.9,431.4 L1719.3,431.0 L1720.7,430.5 L1722.0,430.1 L1723.4,429.7 L1724.7,429.3 L1726.1,428.9 L1727.5,428.5 L1728.8,428.1 L1730.2,427.6 L1731.5,427.2 L1732.9,426.8 L1734.3,426.4 L1735.6,426.0 L1737.0,425.6 L1738.3,425.2 L1739.7,424.8 L1741.1,424.4 L1742.4,424.0 L1743.8,423.6 L1745.2,423.2 L1746.5,422.8 L1747.9,422.4 L1749.3,422.0 L1750.6,421.6 L1752.0,421.2 L1753.4,420.8 L1754.7,420.4 L1756.1,420.0 L1757.4,419.6 L1758.8,419.2 L1760.2,418.8 L1761.5,418.4 L1762.9,418.1 L1764.3,417.7 L1765.6,417.3 L1767.0,416.9 L1768.4,416.5 L1769.7,416.1 L1771.1,415.7 L1772.5,415.4 L1773.9,415.0 L1775.2,414.6 L1776.6,414.2 L1778.0,413.8 L1779.3,413.4 L1780.7,413.1 L1782.1,412.7 L1783.4,412.3 L1784.8,411.9 L1786.2,411.6 L1787.5,411.2 L1788.9,410.8 L1790.3,410.4 L1791.7,410.1 L1793.0,409.7 L1794.4,409.3 L1795.8,409.0 L1797.1,408.6 L1798.5,408.2 L1799.9,407.9 L1801.3,407.5 L1802.6,407.1 L1804.0,406.8 L1805.4,406.4 L1806.7,406.0 L1808.1,405.7 L1809.5,405.3 L1810.9,405.0 L1812.2,404.6 L1813.6,404.2 L1815.0,403.9 L1816.4,403.5 L1817.7,403.2 L1819.1,402.8 L1820.5,402.5 L1821.9,402.1 L1823.2,401.7 L1824.6,401.4 L1826.0,401.0 L1827.4,400.7 L1828.7,400.3 L1830.1,400.0 L1831.5,399.6 L1832.9,399.3 L1834.2,398.9 L1835.6,398.6 L1837.0,398.3 L1838.4,397.9 L1839.8,397.6 L1841.1,397.2 L1842.5,396.9 L1843.9,396.5 L1845.3,396.2 L1846.6,395.9 L1848.0,395.5 L1849.4,395.2 L1850.8,394.8 L1852.2,394.5 L1853.5,394.2 L1854.9,393.8 L1856.3,393.5 L1857.7,393.2 L1859.1,392.8 L1860.4,392.5 L1861.8,392.2 L1863.2,391.8 L1864.6,391.5 L1866.0,391.2 L1867.3,390.8 L1868.7,390.5 L1870.1,390.2 L1871.5,389.9 L1872.9,389.5 L1874.2,389.2 L1875.6,388.9 L1877.0,388.6 L1878.4,388.2 L1879.8,387.9 L1881.2,387.6 L1882.5,387.3 L1883.9,387.0 L1885.3,386.6 L1886.7,386.3 L1888.1,386.0 L1889.5,385.7 L1890.8,385.4 L1892.2,385.1 L1893.6,384.7 L1895.0,384.4 L1896.4,384.1 L1897.8,383.8 L1899.2,383.5 L1900.5,383.2 L1901.9,382.9 L1903.3,382.5 L1904.7,382.2 L1906.1,381.9 L1907.5,381.6 L1908.9,381.3 L1910.2,381.0 L1911.6,380.7 L1913.0,380.4 L1914.4,380.1 L1915.8,379.8 L1917.2,379.5 L1918.6,379.2 L1919.9,378.9 L1921.3,378.6 L1922.7,378.3 L1924.1,378.0 L1925.5,377.7 L1926.9,377.4 L1928.3,377.1 L1929.7,376.8 L1931.1,376.5 L1932.4,376.2 L1933.8,375.9 L1935.2,375.6 L1936.6,375.3 L1938.0,375.0 L1939.4,374.7 L1940.8,374.4 L1942.2,374.1 L1943.6,373.8 L1944.9,373.5 L1946.3,373.3 L1947.7,373.0 L1949.1,372.7 L1950.5,372.4 L1951.9,372.1 L1953.3,371.8 L1954.7,371.5 L1956.1,371.2 L1957.5,371.0 L1958.9,370.7 L1960.2,370.4 L1961.6,370.1 L1963.0,369.8 L1964.4,369.5 L1965.8,369.3 L1967.2,369.0 L1968.6,368.7 L1970.0,368.4 L1971.4,368.1 L1972.8,367.9 L1974.2,367.6 L1975.6,367.3 L1977.0,367.0 L1978.4,366.8 L1979.7,366.5 L1981.1,366.2 L1982.5,365.9 L1983.9,365.7 L1985.3,365.4 L1986.7,365.1 L1988.1,364.8 L1989.5,364.6 L1990.9,364.3 L1992.3,364.0 L1993.7,363.8 L1995.1,363.5 L1996.5,363.2 L1997.9,363.0 L1999.3,362.7 L2000.7,362.4 L2002.1,362.2 L2003.5,361.9 L2004.9,361.6 L2006.3,361.4 L2007.6,361.1 L2009.0,360.8 L2010.4,360.6 L2011.8,360.3 L2013.2,360.0 L2014.6,359.8 L2016.0,359.5 L2017.4,359.3 L2018.8,359.0 L2020.2,358.7 L2021.6,358.5 L2023.0,358.2 L2024.4,358.0 L2025.8,357.7 L2027.2,357.5 L2028.6,357.2 L2030.0,356.9 L2031.4,356.7 L2032.8,356.4 L2034.2,356.2 L2035.6,355.9 L2037.0,355.7 L2038.4,355.4 L2039.8,355.2 L2041.2,354.9 L2042.6,354.7 L2044.0,354.4 L2045.4,354.2 L2046.8,353.9 L2048.2,353.7 L2049.6,353.4 L2051.0,353.2 L2052.4,352.9 L2053.8,352.7 L2055.2,352.4 L2056.6,352.2 L2058.0,351.9 L2059.4,351.7 L2060.8,351.5 L2062.2,351.2 L2063.6,351.0 L2065.0,350.7 L2066.4,350.5 L2067.8,350.2 L2069.2,350.0 L2070.6,349.8 L2072.0,349.5 L2073.4,349.3 L2074.8,349.0 L2076.2,348.8 L2077.6,348.6 L2079.0,348.3 L2080.4,348.1 L2081.8,347.9 L2083.2,347.6 L2084.6,347.4 L2086.0,347.1 L2087.4,346.9 L2088.8,346.7 L2090.2,346.4 L2091.6,346.2 L2093.0,346.0 L2094.4,345.7 L2095.8,345.5 L2097.2,345.3 L2098.7,345.0 L2100.1,344.8 L2101.5,344.6 L2102.9,344.4 L2104.3,344.1 L2105.7,343.9 L2107.1,343.7 L2108.5,343.4 L2109.9,343.2 L2111.3,343.0 L2112.7,342.8 L2114.1,342.5 L2115.5,342.3 L2116.9,342.1 L2118.3,341.8 L2119.7,341.6 L2121.1,341.4 L2122.5,341.2 L2123.9,341.0 L2125.3,340.7 L2126.7,340.5 L2128.1,340.3 L2129.5,340.1 L2131.0,339.8 L2132.4,339.6 L2133.8,339.4 L2135.2,339.2 L2136.6,339.0 L2138.0,338.7 L2139.4,338.5 L2140.8,338.3 L2142.2,338.1 L2143.6,337.9 L2145.0,337.6 L2146.4,337.4 L2147.8,337.2 L2149.2,337.0 L2150.6,336.8 L2152.0,336.6"/>
<path stroke="#008000" d="M295.0,1388.3 L298.7,1387.8 L302.5,1387.3 L306.2,1386.8 L310.0,1386.3 L313.7,1385.8 L317.5,1385.3 L321.2,1384.8 L325.0,1384.3 L328.7,1383.8 L332.5,1383.3 L336.3,1382.8 L340.0,1382.2 L343.7,1381.7 L347.5,1381.2 L351.2,1380.6 L355.0,1380.1 L358.7,1379.5 L362.5,1379.0 L366.2,1378.4 L370.0,1377.9 L373.7,1377.3 L377.5,1376.7 L381.2,1376.1 L384.9,1375.6 L388.7,1375.0 L392.4,1374.4 L396.2,1373.8 L399.9,1373.2 L403.6,1372.6 L407.4,1372.0 L411.1,1371.4 L414.8,1370.8 L418.6,1370.2 L422.3,1369.5 L426.0,1368.9 L429.8,1368.3 L433.5,1367.6 L437.2,1367.0 L441.0,1366.4 L444.7,1365.7 L448.4,1365.0 L452.2,1364.4 L455.9,1363.7 L459.6,1363.1 L463.3,1362.4 L467.1,1361.7 L470.8,1361.0 L474.5,1360.4 L478.2,1359.7 L481.9,1359.0 L485.7,1358.3 L489.4,1357.6 L493.1,1356.9 L496.8,1356.2 L500.5,1355.4 L504.2,1354.7 L508.0,1354.0 L511.7,1353.3 L515.4,1352.5 L519.1,1351.8 L522.8,1351.1 L526.5,1350.3 L530.2,1349.6 L533.9,1348.8 L537.6,1348.1 L541.4,1347.3 L545.1,1346.5 L548.8,1345.8 L552.5,1345.0 L556.2,1344.2 L559.9,1343.4 L563.6,1342.6 L567.3,1341.8 L571.0,1341.0 L574.7,1340.2 L578.4,1339.4 L582.1,1338.6 L585.8,1337.8 L589.5,1337.0 L593.1,1336.2 L596.8,1335.3 L600.5,1334.5 L604.2,1333.7 L607.9,1332.8 L611.6,1332.0 L615.3,1331.1 L619.0,1330.3 L622.7,1329.4 L626.3,1328.5 L630.0,1327.7 L633.7,1326.8 L637.4,1325.9 L641.1,1325.0 L644.8,1324.1 L648.4,1323.3 L652.1,1322.4 L655.8,1321.5 L659.5,1320.6 L663.1,1319.6 L666.8,1318.7 L670.5,1317.8 L674.2,1316.9 L677.8,1316.0 L681.5,1315.0 L685.2,1314.1 L688.8,1313.1 L692.5,1312.2 L696.2,1311.3 L699.8,1310.3 L703.5,1309.3 L707.2,1308.4 L710.8,1307.4 L714.5,1306.4 L718.1,1305.5 L721.8,1304.5 L725.5,1303.5 L729.1,1302.5 L732.8,1301.5 L736.4,1300.5 L740.1,1299.5 L743.7,1298.4 L747.3,1297.4 L751.0,1296.4 L754.6,1295.3 L758.3,1294.3 L761.9,1293.2 L765.5,1292.2 L769.2,1291.1 L772.8,1290.0 L776.4,1288.9 L780.0,1287.8 L783.7,1286.7 L787.3,1285.6 L790.9,1284.5 L794.5,1283.4 L798.1,1282.2 L801.7,1281.1 L805.3,1279.9 L808.9,1278.8 L812.5,1277.6 L816.1,1276.4 L819.7,1275.2 L823.3,1274.0 L826.8,1272.8 L830.4,1271.5 L834.0,1270.3 L837.6,1269.0 L841.1,1267.8 L844.7,1266.5 L848.2,1265.2 L851.8,1263.9 L855.3,1262.6 L858.9,1261.3 L862.4,1260.0 L865.9,1258.6 L869.5,1257.3 L873.0,1255.9 L876.5,1254.5 L880.0,1253.1 L883.5,1251.7 L887.0,1250.3 L890.5,1248.8 L894.0,1247.4 L897.5,1245.9 L900.9,1244.4 L904.4,1242.9 L907.9,1241.4 L911.3,1239.9 L914.8,1238.3 L918.2,1236.8 L921.7,1235.2 L925.1,1233.6 L928.6,1232.0 L932.0,1230.4 L935.4,1228.8 L938.8,1227.1 L942.2,1225.5 L945.6,1223.8 L949.0,1222.1 L952.4,1220.4 L955.8,1218.6 L959.1,1216.9 L962.5,1215.1 L965.8,1213.3 L969.2,1211.5 L972.5,1209.7 L975.9,1207.9 L979.2,1206.0 L982.5,1204.1 L985.8,1202.2 L989.1,1200.3 L992.4,1198.4 L995.7,1196.4 L998.9,1194.4 L1002.2,1192.5 L1005.4,1190.5 L1008.7,1188.4 L1011.9,1186.4 L1015.1,1184.3 L1018.3,1182.2 L1021.5,1180.1 L1024.7,1178.0 L1027.8,1175.9 L1031.0,1173.7 L1034.1,1171.5 L1037.2,1169.3 L1040.3,1167.1 L1043.4,1164.8 L1046.5,1162.6 L1049.5,1160.3 L1052.5,1158.0 L1055.6,1155.7 L1058.5,1153.3 L1061.5,1151.0 L1064.5,1148.6 L1067.4,1146.2 L1070.3,1143.8 L1073.2,1141.3 L1076.1,1138.9 L1079.0,1136.4 L1081.8,1133.9 L1084.6,1131.3 L1087.4,1128.8 L1090.2,1126.2 L1092.9,1123.6 L1095.6,1121.0 L1098.3,1118.4 L1101.0,1115.7 L1103.6,1113.0 L1106.2,1110.4 L1108.8,1107.6 L1111.4,1104.9 L1113.9,1102.1 L1116.5,1099.3 L1118.9,1096.5 L1121.4,1093.7 L1123.8,1090.9 L1126.2,1088.0 L1128.6,1085.1 L1130.9,1082.2 L1133.3,1079.2 L1135.5,1076.3 L1137.8,1073.3 L1140.0,1070.3 L1142.2,1067.2 L1144.4,1064.2 L1146.5,1061.1 L1148.6,1058.0 L1150.6,1054.9 L1152.7,1051.7 L1154.6,1048.6 L1156.6,1045.4 L1158.5,1042.2 L1160.4,1038.9 L1162.2,1035.7 L1164.1,1032.4 L1165.8,1029.1 L1167.6,1025.8 L1169.3,1022.4 L1171.0,1019.0 L1172.6,1015.7 L1174.3,1012.3 L1175.9,1008.8 L1177.4,1005.4 L1179.0,1001.9 L1180.5,998.5 L1182.0,995.0 L1183.4,991.5 L1184.8,988.0 L1186.2,984.4 L1187.6,980.9 L1189.0,977.3 L1190.3,973.7 L1191.7,970.2 L1193.0,966.6 L1194.2,963.0 L1195.5,959.4 L1196.7,955.8 L1198.0,952.1 L1199.2,948.5 L1200.4,944.9 L1201.5,941.2 L1202.7,937.6 L1203.8,933.9 L1205.0,930.2 L1206.1,926.6 L1207.2,922.9 L1208.3,919.3 L1209.4,915.6 L1210.5,911.9 L1211.5,908.2 L1212.6,904.6 L1213.7,900.9 L1214.7,897.2 L1215.8,893.6 L1216.8,889.9 L1217.8,886.2 L1218.9,882.6 L1219.9,878.9 L1221.0,875.2 L1222.0,871.6 L1223.1,867.9 L1224.1,864.3 L1225.2,860.6 L1226.3,857.0 L1227.3,853.3 L1228.4,849.7 L1229.5,846.1 L1230.6,842.4 L1231.7,838.8 L1232.9,835.2 L1234.0,831.6 L1235.2,828.0 L1236.3,824.4 L1237.5,820.8 L1238.8,817.2 L1240.0,813.6 L1241.2,810.0 L1242.5,806.5 L1243.8,802.9 L1245.1,799.4 L1246.5,795.8 L1247.8,792.3 L1249.2,788.8 L1250.6,785.3 L1252.0,781.8 L1253.5,778.3 L1255.0,774.8 L1256.5,771.4 L1258.0,767.9 L1259.5,764.5 L1261.1,761.1 L1262.7,757.7 L1264.4,754.3 L1266.0,750.9 L1267.7,747.5 L1269.4,744.2 L1271.2,740.8 L1272.9,737.5 L1274.7,734.2 L1276.6,730.9 L1278.4,727.6 L1280.3,724.4 L1282.2,721.1 L1284.2,717.9 L1286.1,714.7 L1288.1,711.5 L1290.2,708.3 L1292.3,705.2 L1294.4,702.0 L1296.5,698.9 L1298.7,695.8 L1300.9,692.8 L1303.1,689.7 L1305.4,686.7 L1307.7,683.7 L1310.0,680.7 L1312.3,677.7 L1314.7,674.7 L1317.1,671.8 L1319.6,668.9 L1322.0,666.0 L1324.5,663.1 L1327.1,660.3 L1329.6,657.5 L1332.2,654.7 L1334.8,651.9 L1337.4,649.2 L1340.0,646.4 L1342.7,643.7 L1345.4,641.0 L1348.1,638.4 L1350.8,635.7 L1353.6,633.1 L1356.4,630.5 L1359.1,627.9 L1362.0,625.4 L1364.8,622.9 L1367.6,620.4 L1370.5,617.9 L1373.4,615.5 L1376.3,613.0 L1379.2,610.6 L1382.1,608.3 L1385.1,605.9 L1388.1,603.6 L1391.0,601.3 L1394.0,599.0 L1397.1,596.7 L1400.1,594.5 L1403.1,592.3 L1406.2,590.1 L1409.3,587.9 L1412.4,585.8 L1415.5,583.6 L1418.6,581.5 L1421.7,579.4 L1424.9,577.4 L1428.0,575.3 L1431.2,573.3 L1434.4,571.3 L1437.6,569.3 L1440.8,567.3 L1444.0,565.4 L1447.3,563.4 L1450.5,561.5 L1453.8,559.6 L1457.1,557.8 L1460.4,555.9 L1463.7,554.1 L1467.0,552.3 L1470.3,550.5 L1473.6,548.7 L1477.0,546.9 L1480.3,545.2 L1483.7,543.4 L1487.0,541.7 L1490.4,540.0 L1493.8,538.3 L1497.2,536.7 L1500.6,535.0 L1504.1,533.4 L1507.5,531.8 L1510.9,530.2 L1514.4,528.6 L1517.8,527.0 L1521.3,525.4 L1524.7,523.9 L1528.2,522.3 L1531.7,520.8 L1535.2,519.3 L1538.7,517.8 L1542.2,516.4 L1545.7,514.9 L1549.2,513.4 L1552.7,512.0 L1556.2,510.6 L1559.8,509.2 L1563.3,507.7 L1566.9,506.4 L1570.4,505.0 L1574.0,503.6 L1577.5,502.2 L1581.1,500.9 L1584.6,499.6 L1588.2,498.2 L1591.8,496.9 L1595.4,495.6 L1598.9,494.3 L1602.5,493.0 L1606.1,491.7 L1609.7,490.5 L1613.3,489.2 L1616.9,488.0 L1620.5,486.7 L1624.1,485.5 L1627.6,484.3 L1631.2,483.0 L1634.8,481.8 L1638.5,480.6 L1642.1,479.4 L1645.7,478.3 L1649.3,477.1 L1652.9,475.9 L1656.5,474.7 L1660.1,473.6 L1663.7,472.4 L1667.3,471.3 L1670.9,470.2 L1674.6,469.0 L1678.2,467.9 L1681.8,466.8 L1685.4,465.7 L1689.1,464.6 L1692.7,463.5 L1696.3,462.5 L1699.9,461.4 L1703.6,460.3 L1707.2,459.3 L1710.8,458.2 L1714.5,457.2 L1718.1,456.1 L1721.8,455.1 L1725.4,454.1 L1729.0,453.1 L1732.7,452.1 L1736.3,451.1 L1740.0,450.1 L1743.6,449.1 L1747.3,448.1 L1750.9,447.1 L1754.6,446.1 L1758.2,445.2 L1761.9,444.2 L1765.5,443.3 L1769.2,442.3 L1772.9,441.4 L1776.5,440.5 L1780.2,439.5 L1783.9,438.6 L1787.5,437.7 L1791.2,436.8 L1794.9,435.9 L1798.5,435.0 L1802.2,434.1 L1805.9,433.2 L1809.5,432.4 L1813.2,431.5 L1816.9,430.6 L1820.6,429.8 L1824.3,428.9 L1827.9,428.1 L1831.6,427.2 L1835.3,426.4 L1839.0,425.6 L1842.7,424.7 L1846.4,423.9 L1850.0,423.1 L1853.7,422.3 L1857.4,421.5 L1861.1,420.7 L1864.8,419.9 L1868.5,419.1 L1872.2,418.3 L1875.9,417.5 L1879.6,416.8 L1883.3,416.0 L1887.0,415.2 L1890.7,414.5 L1894.4,413.7 L1898.1,413.0 L1901.8,412.2 L1905.5,411.5 L1909.2,410.7 L1912.9,410.0 L1916.6,409.3 L1920.3,408.5 L1924.0,407.8 L1927.8,407.1 L1931.5,406.4 L1935.2,405.7 L1938.9,405.0 L1942.6,404.3 L1946.3,403.6 L1950.0,402.9 L1953.8,402.2 L1957.5,401.5 L1961.2,400.9 L1964.9,400.2 L1968.6,399.5 L1972.4,398.8 L1976.1,398.2 L1979.8,397.5 L1983.5,396.9 L1987.3,396.2 L1991.0,395.6 L1994.7,394.9 L1998.5,394.3 L2002.2,393.6 L2005.9,393.0 L2009.7,392.4 L2013.4,391.7 L2017.1,391.1 L2020.9,390.5 L2024.6,389.9 L2028.3,389.3 L2032.1,388.6 L2035.8,388.0 L2039.6,387.4 L2043.3,386.8 L2047.0,386.2 L2050.8,385.6 L2054.5,385.0 L2058.3,384.4 L2062.0,383.8 L2065.7,383.2 L2069.5,382.7 L2073.2,382.1 L2077.0,381.5 L2080.7,380.9 L2084.5,380.3 L2088.2,379.8 L2092.0,379.2 L2095.7,378.6 L2099.5,378.0 L2103.2,377.5 L2107.0,376.9 L2110.7,376.3 L2114.5,375.8 L2118.2,375.2 L2122.0,374.7 L2125.8,374.1 L2129.5,373.6 L2133.3,373.0 L2137.0,372.5 L2140.8,371.9 L2144.5,371.4 L2148.3,370.8 L2152.1,370.3"/>
<path stroke="#008000" d="M1115.9,1100.0 L1116.5,1099.3 L1117.1,1098.6 L1117.7,1097.9 L1118.4,1097.2 L1119.0,1096.5 L1119.6,1095.8 L1120.2,1095.1 L1120.8,1094.4 L1121.4,1093.7 L1122.0,1093.0 L1122.6,1092.3 L1123.2,1091.6 L1123.8,1090.9 L1124.4,1090.2 L1125.0,1089.5 L1125.6,1088.8 L1126.2,1088.1 L1126.7,1087.3 L1127.3,1086.6 L1127.9,1085.9 L1128.5,1085.2 L1129.1,1084.5 L1129.7,1083.8 L1130.2,1083.0 L1130.8,1082.3 L1131.4,1081.6 L1132.0,1080.9 L1132.5,1080.1 L1133.1,1079.4 L1133.7,1078.7 L1134.2,1078.0 L1134.8,1077.2 L1135.3,1076.5 L1135.9,1075.8 L1136.5,1075.0 L1137.0,1074.3 L1137.6,1073.6 L1138.1,1072.8 L1138.7,1072.1 L1139.2,1071.3 L1139.8,1070.6 L1140.3,1069.9 L1140.8,1069.1 L1141.4,1068.4 L1141.9,1067.6 L1142.5,1066.9 L1143.0,1066.1 L1143.5,1065.4 L1144.1,1064.6 L1144.6,1063.9 L1145.1,1063.1 L1145.6,1062.4 L1146.2,1061.6 L1146.7,1060.9 L1147.2,1060.1 L1147.7,1059.4 L1148.3,1058.6 L1148.8,1057.8 L1149.3,1057.1 L1149.8,1056.3 L1150.3,1055.6 L1150.8,1054.8 L1151.3,1054.0 L1151.8,1053.3 L1152.3,1052.5 L1152.8,1051.7 L1153.3,1051.0 L1153.8,1050.2 L1154.3,1049.4 L1154.8,1048.7 L1155.3,1047.9 L1155.8,1047.1 L1156.3,1046.3 L1156.8,1045.6 L1157.3,1044.8 L1157.8,1044.0 L1158.3,1043.2 L1158.7,1042.4 L1159.2,1041.7 L1159.7,1040.9 L1160.2,1040.1 L1160.7,1039.3 L1161.1,1038.5 L1161.6,1037.7 L1162.1,1037.0 L1162.6,1036.2 L1163.0,1035.4 L1163.5,1034.6 L1163.9,1033.8 L1164.4,1033.0 L1164.9,1032.2 L1165.3,1031.4 L1165.8,1030.6 L1166.2,1029.8 L1166.7,1029.1 L1167.2,1028.3 L1167.6,1027.5 L1168.1,1026.7 L1168.5,1025.9 L1169.0,1025.1 L1169.4,1024.3 L1169.8,1023.5 L1170.3,1022.7 L1170.7,1021.9 L1171.2,1021.1 L1171.6,1020.2 L1172.0,1019.4 L1172.5,1018.6 L1172.9,1017.8 L1173.3,1017.0 L1173.8,1016.2 L1174.2,1015.4 L1174.6,1014.6 L1175.0,1013.8 L1175.5,1013.0 L1175.9,1012.2 L1176.3,1011.3 L1176.7,1010.5 L1177.1,1009.7 L1177.6,1008.9 L1178.0,1008.1 L1178.4,1007.3 L1178.8,1006.4 L1179.2,1005.6 L1179.6,1004.8 L1180.0,1004.0 L1180.4,1003.2 L1180.8,1002.3 L1181.2,1001.5 L1181.6,1000.7 L1182.0,999.9 L1182.4,999.0 L1182.8,998.2 L1183.2,997.4 L1183.6,996.6 L1184.0,995.7 L1184.4,994.9 L1184.8,994.1 L1185.2,993.3 L1185.6,992.4 L1185.9,991.6 L1186.3,990.8 L1186.7,989.9 L1187.1,989.1 L1187.5,988.3 L1187.8,987.4 L1188.2,986.6 L1188.6,985.8 L1189.0,984.9 L1189.3,984.1 L1189.7,983.2 L1190.1,982.4 L1190.4,981.6 L1190.8,980.7 L1191.2,979.9 L1191.5,979.0 L1191.9,978.2 L1192.2,977.4 L1192.6,976.5 L1193.0,975.7 L1193.3,974.8 L1193.7,974.0 L1194.0,973.1 L1194.4,972.3 L1194.7,971.4 L1195.1,970.6 L1195.4,969.8 L1195.7,968.9 L1196.1,968.1 L1196.4,967.2 L1196.8,966.4 L1197.1,965.5 L1197.5,964.7 L1197.8,963.8 L1198.1,963.0 L1198.5,962.1 L1198.8,961.3 L1199.1,960.4 L1199.5,959.5 L1199.8,958.7 L1200.1,957.8 L1200.4,957.0 L1200.8,956.1 L1201.1,955.3 L1201.4,954.4 L1201.7,953.6 L1202.0,952.7 L1202.4,951.8 L1202.7,951.0 L1203.0,950.1 L1203.3,949.3 L1203.6,948.4 L1203.9,947.5 L1204.2,946.7 L1204.5,945.8 L1204.9,945.0 L1205.2,944.1 L1205.5,943.2 L1205.8,942.4 L1206.1,941.5 L1206.4,940.6 L1206.7,939.8 L1207.0,938.9 L1207.3,938.1 L1207.6,937.2 L1207.9,936.3 L1208.2,935.5 L1208.5,934.6 L1208.8,933.7 L1209.1,932.9 L1209.3,932.0 L1209.6,931.1 L1209.9,930.3 L1210.2,929.4 L1210.5,928.5 L1210.8,927.6 L1211.1,926.8 L1211.4,925.9 L1211.7,925.0 L1211.9,924.2 L1212.2,923.3 L1212.5,922.4 L1212.8,921.6 L1213.1,920.7 L1213.4,919.8 L1213.6,918.9 L1213.9,918.1 L1214.2,917.2 L1214.5,916.3 L1214.7,915.4 L1215.0,914.6 L1215.3,913.7 L1215.6,912.8 L1215.8,912.0 L1216.1,911.1 L1216.4,910.2 L1216.7,909.3 L1216.9,908.5 L1217.2,907.6 L1217.5,906.7 L1217.8,905.8 L1218.0,905.0 L1218.3,904.1 L1218.6,903.2 L1218.8,902.3 L1219.1,901.4 L1219.4,900.6 L1219.6,899.7 L1219.9,898.8 L1220.2,897.9 L1220.4,897.1 L1220.7,896.2 L1221.0,895.3 L1221.2,894.4 L1221.5,893.5 L1221.7,892.7 L1222.0,891.8 L1222.3,890.9 L1222.5,890.0 L1222.8,889.1 L1223.1,888.3 L1223.3,887.4 L1223.6,886.5 L1223.8,885.6 L1224.1,884.7 L1224.4,883.9 L1224.6,883.0 L1224.9,882.1 L1225.1,881.2 L1225.4,880.3 L1225.7,879.5 L1225.9,878.6 L1226.2,877.7 L1226.4,876.8 L1226.7,875.9 L1227.0,875.1 L1227.2,874.2 L1227.5,873.3 L1227.7,872.4 L1228.0,871.5 L1228.3,870.7 L1228.5,869.8 L1228.8,868.9 L1229.0,868.0 L1229.3,867.1 L1229.6,866.3 L1229.8,865.4 L1230.1,864.5 L1230.3,863.6 L1230.6,862.7 L1230.9,861.8 L1231.1,861.0 L1231.4,860.1 L1231.6,859.2 L1231.9,858.3 L1232.2,857.4 L1232.4,856.6 L1232.7,855.7 L1232.9,854.8 L1233.2,853.9 L1233.5,853.0 L1233.7,852.2 L1234.0,851.3 L1234.3,850.4 L1234.5,849.5 L1234.8,848.6 L1235.0,847.8 L1235.3,846.9 L1235.6,846.0 L1235.8,845.1 L1236.1,844.2 L1236.4,843.4 L1236.6,842.5 L1236.9,841.6 L1237.2,840.7 L1237.4,839.8 L1237.7,839.0 L1238.0,838.1 L1238.2,837.2 L1238.5,836.3 L1238.8,835.4 L1239.1,834.6 L1239.3,833.7 L1239.6,832.8 L1239.9,831.9 L1240.1,831.1 L1240.4,830.2 L1240.7,829.3 L1241.0,828.4 L1241.2,827.5 L1241.5,826.7 L1241.8,825.8 L1242.1,824.9 L1242.3,824.0 L1242.6,823.2 L1242.9,822.3 L1243.2,821.4 L1243.5,820.5 L1243.7,819.7 L1244.0,818.8 L1244.3,817.9 L1244.6,817.0 L1244.9,816.2 L1245.2,815.3 L1245.4,814.4 L1245.7,813.5 L1246.0,812.7 L1246.3,811.8 L1246.6,810.9 L1246.9,810.1 L1247.2,809.2 L1247.5,808.3 L1247.8,807.4 L1248.1,806.6 L1248.4,805.7 L1248.7,804.8 L1249.0,804.0 L1249.3,803.1 L1249.6,802.2 L1249.9,801.3 L1250.2,800.5 L1250.5,799.6 L1250.8,798.7 L1251.1,797.9 L1251.4,797.0 L1251.7,796.1 L1252.0,795.3 L1252.3,794.4 L1252.6,793.5 L1252.9,792.7 L1253.2,791.8 L1253.5,790.9 L1253.8,790.1 L1254.2,789.2 L1254.5,788.4 L1254.8,787.5 L1255.1,786.6 L1255.4,785.8 L1255.8,784.9 L1256.1,784.1 L1256.4,783.2 L1256.7,782.3 L1257.1,781.5 L1257.4,780.6 L1257.7,779.8 L1258.0,778.9 L1258.4,778.1 L1258.7,777.2 L1259.0,776.3 L1259.4,775.5 L1259.7,774.6 L1260.0,773.8 L1260.4,772.9 L1260.7,772.1 L1261.1,771.2 L1261.4,770.4 L1261.7,769.5 L1262.1,768.7 L1262.4,767.8 L1262.8,767.0 L1263.1,766.1 L1263.5,765.3 L1263.8,764.4 L1264.2,763.6 L1264.5,762.7 L1264.9,761.9 L1265.3,761.1 L1265.6,760.2 L1266.0,759.4 L1266.3,758.5 L1266.7,757.7 L1267.1,756.8 L1267.4,756.0 L1267.8,755.2 L1268.2,754.3 L1268.5,753.5 L1268.9,752.7 L1269.3,751.8 L1269.7,751.0 L1270.0,750.2 L1270.4,749.3 L1270.8,748.5 L1271.2,747.7 L1271.6,746.8 L1271.9,746.0 L1272.3,745.2 L1272.7,744.3 L1273.1,743.5 L1273.5,742.7 L1273.9,741.9 L1274.3,741.0 L1274.7,740.2 L1275.1,739.4 L1275.5,738.6 L1275.9,737.8 L1276.3,736.9 L1276.7,736.1 L1277.1,735.3 L1277.5,734.5 L1277.9,733.7 L1278.3,732.9 L1278.7,732.0 L1279.1,731.2 L1279.6,730.4 L1280.0,729.6 L1280.4,728.8 L1280.8,728.0 L1281.2,727.2 L1281.7,726.4 L1282.1,725.6 L1282.5,724.8 L1283.0,724.0 L1283.4,723.2 L1283.8,722.4 L1284.3,721.6 L1284.7,720.8 L1285.1,720.0 L1285.6,719.2 L1286.0,718.4 L1286.5,717.6 L1286.9,716.8 L1287.4,716.0 L1287.8,715.2 L1288.3,714.4 L1288.7,713.6 L1289.2,712.8 L1289.6,712.0 L1290.1,711.3 L1290.6,710.5 L1291.0,709.7 L1291.5,708.9 L1292.0,708.1 L1292.4,707.3 L1292.9,706.6 L1293.4,705.8 L1293.9,705.0 L1294.4,704.2 L1294.8,703.5 L1295.3,702.7 L1295.8,701.9 L1296.3,701.1 L1296.8,700.4 L1297.3,699.6 L1297.8,698.8 L1298.3,698.1 L1298.8,697.3 L1299.3,696.5 L1299.8,695.8 L1300.3,695.0 L1300.8,694.3 L1301.3,693.5 L1301.8,692.8 L1302.3,692.0 L1302.8,691.2 L1303.4,690.5 L1303.9,689.7 L1304.4,689.0 L1304.9,688.2 L1305.4,687.5 L1306.0,686.8 L1306.5,686.0 L1307.0,685.3 L1307.6,684.5 L1308.1,683.8 L1308.6,683.0 L1309.2,682.3 L1309.7,681.6 L1310.3,680.8 L1310.8,680.1 L1311.4,679.4 L1311.9,678.6 L1312.5,677.9 L1313.0,677.2 L1313.6,676.5 L1314.2,675.7 L1314.7,675.0 L1315.3,674.3 L1315.8,673.6 L1316.4,672.9 L1317.0,672.1 L1317.5,671.4 L1318.1,670.7 L1318.7,670.0 L1319.3,669.3 L1319.9,668.6 L1320.4,667.9 L1321.0,667.1 L1321.6,666.4 L1322.2,665.7 L1322.8,665.0 L1323.4,664.3 L1324.0,663.6 L1324.6,662.9 L1325.2,662.2 L1325.8,661.5 L1326.4,660.8 L1327.0,660.1 L1327.6,659.5 L1328.2,658.8 L1328.8,658.1 L1329.4,657.4 L1330.0,656.7 L1330.6,656.0 L1331.2,655.3 L1331.9,654.7 L1332.5,654.0 L1333.1,653.3 L1333.7,652.6 L1334.4,651.9 L1335.0,651.3 L1335.6,650.6 L1336.2,649.9 L1336.9,649.2 L1337.5,648.6 L1338.2,647.9 L1338.8,647.2 L1339.4,646.6 L1340.1,645.9 L1340.7,645.3 L1341.4,644.6 L1342.0,643.9 L1342.7,643.3 L1343.3,642.6 L1344.0,642.0 L1344.6,641.3 L1345.3,640.7 L1346.0,640.0 L1346.6,639.4 L1347.3,638.7 L1348.0,638.1 L1348.6,637.5 L1349.3,636.8 L1350.0,636.2 L1350.6,635.5 L1351.3,634.9 L1352.0,634.3 L1352.7,633.6 L1353.3,633.0 L1354.0,632.4 L1354.7,631.8 L1355.4,631.1 L1356.1,630.5 L1356.8,629.9 L1357.5,629.3 L1358.2,628.6 L1358.9,628.0 L1359.6,627.4 L1360.3,626.8 L1361.0,626.2 L1361.7,625.6 L1362.4,625.0 L1363.1,624.3 L1363.8,623.7 L1364.5,623.1 L1365.2,622.5 L1365.9,621.9 L1366.6,621.3 L1367.3,620.7 L1368.1,620.1"/>
</g>
<g fill="none" stroke-width="12" stroke-linecap="round">
<path stroke="#0000ff" d="M388,277.8 H548"/>
<path stroke="#ff00ff" d="M388,366.8 H548"/>
<path stroke="#008000" d="M388,456 H548"/>
</g>
<g fill="#000">
<text class="a" font-size="75.5" text-anchor="end" transform="translate(264,1435.5) scale(1,1.06)">-40</text>
<text class="a" font-size="75.5" text-anchor="end" transform="translate(264,1168.0) scale(1,1.06)">-20</text>
<text class="a" font-size="75.5" text-anchor="end" transform="translate(264,900.6) scale(1,1.06)">0</text>
<text class="a" font-size="75.5" text-anchor="end" transform="translate(264,633.1) scale(1,1.06)">20</text>
<text class="a" font-size="75.5" text-anchor="end" transform="translate(264,365.7) scale(1,1.06)">40</text>
<text class="a" font-size="75.5" text-anchor="end" transform="translate(264,98.2) scale(1,1.06)">60</text>
<text class="a" font-size="75.5" text-anchor="middle" transform="translate(295.5,1640) scale(1,1.06)">-5000</text>
<text class="a" font-size="75.5" text-anchor="middle" transform="translate(758.8,1640) scale(1,1.06)">-2500</text>
<text class="a" font-size="75.5" text-anchor="middle" transform="translate(1222.0,1640) scale(1,1.06)">0</text>
<text class="a" font-size="75.5" text-anchor="middle" transform="translate(1685.2,1640) scale(1,1.06)">2500</text>
<text class="a" font-size="75.5" text-anchor="middle" transform="translate(2148.5,1640) scale(1,1.06)">5000</text>
<text class="s" font-size="84" x="881" y="1751" textLength="684" lengthAdjust="spacing">Magnetic field (Oe)</text>
<text class="s" font-size="84" transform="translate(97.8,1111) rotate(-90)" textLength="820.5" lengthAdjust="spacing">Magnetization (emu/g)</text>
<text class="s" font-size="84" x="420.7" y="168.8">CoFe<tspan font-size="52.5" dy="33" x="610.5">2</tspan><tspan dy="-33" x="637">O</tspan><tspan font-size="52.5" dy="33" x="701.5">4</tspan></text>
<text class="s" font-size="72.5" transform="translate(564.3,301.9) scale(1,1.04)">200K</text>
<text class="s" font-size="72.5" transform="translate(564.3,390.9) scale(1,1.04)">300K</text>
<text class="s" font-size="72.5" transform="translate(564.3,479.9) scale(1,1.04)">350K</text>
</g>
</svg></body></html>
